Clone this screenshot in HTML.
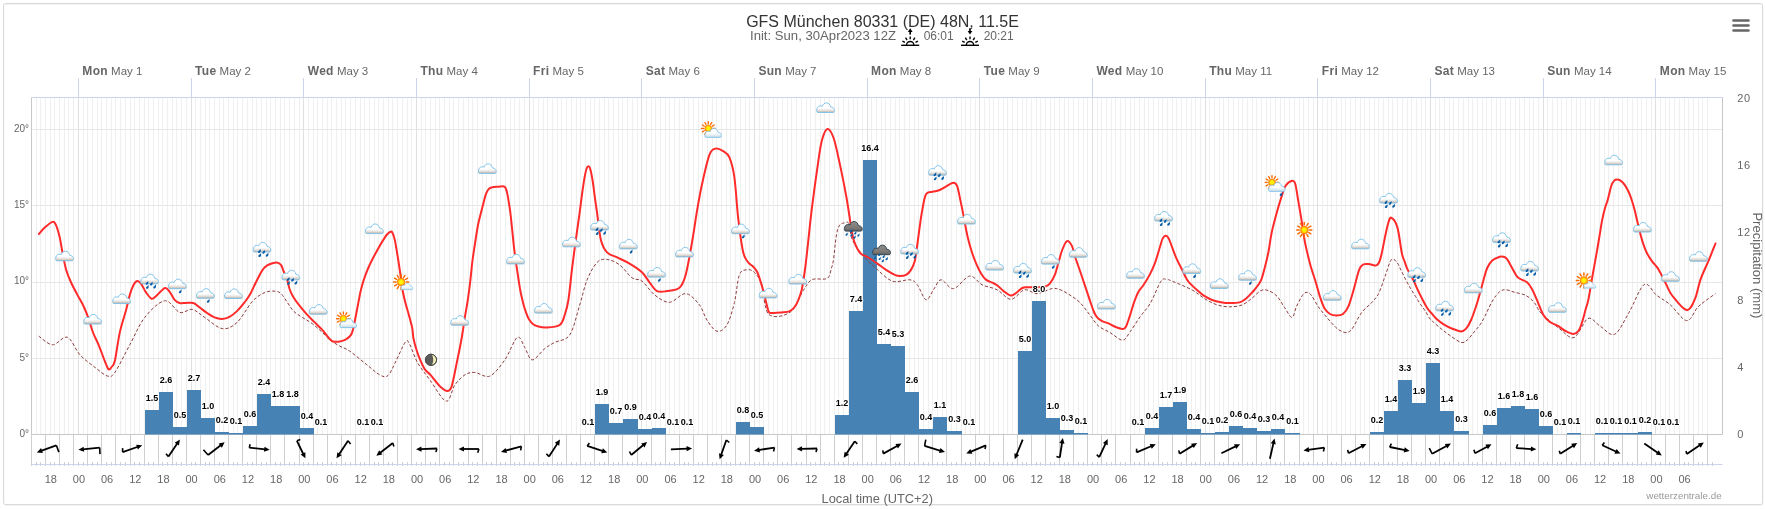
<!DOCTYPE html><html><head><meta charset="utf-8"><style>html,body{margin:0;padding:0;background:#fff;}svg{display:block;font-family:"Liberation Sans",sans-serif;will-change:transform;}</style></head><body><svg width="1765" height="509" viewBox="0 0 1765 509"><defs>
<linearGradient id="cg" x1="0" y1="0" x2="0" y2="1">
<stop offset="0" stop-color="#ffffff"/><stop offset="0.55" stop-color="#ffffff"/><stop offset="0.8" stop-color="#e4dfda"/><stop offset="1" stop-color="#b5aca5"/></linearGradient>
<linearGradient id="cgb" x1="0" y1="0" x2="0" y2="1">
<stop offset="0" stop-color="#ffffff"/><stop offset="0.55" stop-color="#fbfdff"/><stop offset="1" stop-color="#c5dbe8"/></linearGradient>
<linearGradient id="dg" x1="0" y1="0" x2="0" y2="1">
<stop offset="0" stop-color="#8f8c8a"/><stop offset="0.7" stop-color="#7b7876"/><stop offset="1" stop-color="#62605f"/></linearGradient>
<radialGradient id="sg" cx="0.5" cy="0.5" r="0.5">
<stop offset="0" stop-color="#ffff00"/><stop offset="0.45" stop-color="#ffee00"/><stop offset="1" stop-color="#ff8800"/></radialGradient>
<path id="cl" d="M1.2,9.6 C0.3,9.6 -0.1,8.5 0,7.2 C0.1,5 1.3,3.2 3.2,3.1 C4.3,3 5.3,3.1 6,3.3 C6.4,1.4 8.2,0 10.2,0 C12.4,0 14.2,1.6 14.6,4 C15.1,4.2 15.7,4.4 16.3,4.5 C17.7,4.8 18.7,6 18.7,7.6 C18.7,8.8 18.2,9.6 17.4,9.6 Z"/>
<path id="dr" d="M1.4,-1.9 C0.6,-1.1 -1.3,0 -1.3,1 C-1.3,1.8 -0.5,2.1 0.2,1.9 C1.1,1.6 1.4,0.7 1.45,-0.2 C1.5,-0.9 1.45,-1.4 1.4,-1.9 Z"/>
<g id="sunr"><g stroke="#ff6a00" stroke-width="1.5" stroke-linecap="round"><line x1="5.2" y1="0" x2="7.6" y2="0"/><line x1="4.5" y1="2.6" x2="6.58" y2="3.8"/><line x1="2.6" y1="4.5" x2="3.8" y2="6.58"/><line x1="0" y1="5.2" x2="0" y2="7.6"/><line x1="-2.6" y1="4.5" x2="-3.8" y2="6.58"/><line x1="-4.5" y1="2.6" x2="-6.58" y2="3.8"/><line x1="-5.2" y1="0" x2="-7.6" y2="0"/><line x1="-4.5" y1="-2.6" x2="-6.58" y2="-3.8"/><line x1="-2.6" y1="-4.5" x2="-3.8" y2="-6.58"/><line x1="-0" y1="-5.2" x2="-0" y2="-7.6"/><line x1="2.6" y1="-4.5" x2="3.8" y2="-6.58"/><line x1="4.5" y1="-2.6" x2="6.58" y2="-3.8"/></g><circle r="3.9" fill="url(#sg)" stroke="#ff7700" stroke-width="0.6"/></g>
</defs><rect x="0" y="0" width="1765" height="509" fill="#ffffff"/><rect x="4" y="4.5" width="1759" height="501" rx="2" ry="2" fill="none" stroke="#f4f4f4" stroke-width="1"/><rect x="3.5" y="3.5" width="1759" height="501" rx="2" ry="2" fill="none" stroke="#d9d9d9" stroke-width="1"/><path d="M36.5,97.5V434.5M40.5,97.5V434.5M45.5,97.5V434.5M50.5,97.5V434.5M54.5,97.5V434.5M59.5,97.5V434.5M64.5,97.5V434.5M68.5,97.5V434.5M73.5,97.5V434.5M83.5,97.5V434.5M87.5,97.5V434.5M92.5,97.5V434.5M97.5,97.5V434.5M101.5,97.5V434.5M106.5,97.5V434.5M111.5,97.5V434.5M115.5,97.5V434.5M120.5,97.5V434.5M125.5,97.5V434.5M130.5,97.5V434.5M134.5,97.5V434.5M139.5,97.5V434.5M144.5,97.5V434.5M148.5,97.5V434.5M153.5,97.5V434.5M158.5,97.5V434.5M162.5,97.5V434.5M167.5,97.5V434.5M172.5,97.5V434.5M176.5,97.5V434.5M181.5,97.5V434.5M186.5,97.5V434.5M195.5,97.5V434.5M200.5,97.5V434.5M205.5,97.5V434.5M209.5,97.5V434.5M214.5,97.5V434.5M219.5,97.5V434.5M223.5,97.5V434.5M228.5,97.5V434.5M233.5,97.5V434.5M237.5,97.5V434.5M242.5,97.5V434.5M247.5,97.5V434.5M252.5,97.5V434.5M256.5,97.5V434.5M261.5,97.5V434.5M266.5,97.5V434.5M270.5,97.5V434.5M275.5,97.5V434.5M280.5,97.5V434.5M284.5,97.5V434.5M289.5,97.5V434.5M294.5,97.5V434.5M299.5,97.5V434.5M308.5,97.5V434.5M313.5,97.5V434.5M317.5,97.5V434.5M322.5,97.5V434.5M327.5,97.5V434.5M331.5,97.5V434.5M336.5,97.5V434.5M341.5,97.5V434.5M345.5,97.5V434.5M350.5,97.5V434.5M355.5,97.5V434.5M360.5,97.5V434.5M364.5,97.5V434.5M369.5,97.5V434.5M374.5,97.5V434.5M378.5,97.5V434.5M383.5,97.5V434.5M388.5,97.5V434.5M392.5,97.5V434.5M397.5,97.5V434.5M402.5,97.5V434.5M407.5,97.5V434.5M411.5,97.5V434.5M421.5,97.5V434.5M425.5,97.5V434.5M430.5,97.5V434.5M435.5,97.5V434.5M439.5,97.5V434.5M444.5,97.5V434.5M449.5,97.5V434.5M453.5,97.5V434.5M458.5,97.5V434.5M463.5,97.5V434.5M468.5,97.5V434.5M472.5,97.5V434.5M477.5,97.5V434.5M482.5,97.5V434.5M486.5,97.5V434.5M491.5,97.5V434.5M496.5,97.5V434.5M500.5,97.5V434.5M505.5,97.5V434.5M510.5,97.5V434.5M514.5,97.5V434.5M519.5,97.5V434.5M524.5,97.5V434.5M533.5,97.5V434.5M538.5,97.5V434.5M543.5,97.5V434.5M547.5,97.5V434.5M552.5,97.5V434.5M557.5,97.5V434.5M561.5,97.5V434.5M566.5,97.5V434.5M571.5,97.5V434.5M576.5,97.5V434.5M580.5,97.5V434.5M585.5,97.5V434.5M590.5,97.5V434.5M594.5,97.5V434.5M599.5,97.5V434.5M604.5,97.5V434.5M608.5,97.5V434.5M613.5,97.5V434.5M618.5,97.5V434.5M622.5,97.5V434.5M627.5,97.5V434.5M632.5,97.5V434.5M637.5,97.5V434.5M646.5,97.5V434.5M651.5,97.5V434.5M655.5,97.5V434.5M660.5,97.5V434.5M665.5,97.5V434.5M669.5,97.5V434.5M674.5,97.5V434.5M679.5,97.5V434.5M684.5,97.5V434.5M688.5,97.5V434.5M693.5,97.5V434.5M698.5,97.5V434.5M702.5,97.5V434.5M707.5,97.5V434.5M712.5,97.5V434.5M716.5,97.5V434.5M721.5,97.5V434.5M726.5,97.5V434.5M730.5,97.5V434.5M735.5,97.5V434.5M740.5,97.5V434.5M745.5,97.5V434.5M749.5,97.5V434.5M759.5,97.5V434.5M763.5,97.5V434.5M768.5,97.5V434.5M773.5,97.5V434.5M777.5,97.5V434.5M782.5,97.5V434.5M787.5,97.5V434.5M791.5,97.5V434.5M796.5,97.5V434.5M801.5,97.5V434.5M806.5,97.5V434.5M810.5,97.5V434.5M815.5,97.5V434.5M820.5,97.5V434.5M824.5,97.5V434.5M829.5,97.5V434.5M834.5,97.5V434.5M838.5,97.5V434.5M843.5,97.5V434.5M848.5,97.5V434.5M853.5,97.5V434.5M857.5,97.5V434.5M862.5,97.5V434.5M871.5,97.5V434.5M876.5,97.5V434.5M881.5,97.5V434.5M885.5,97.5V434.5M890.5,97.5V434.5M895.5,97.5V434.5M899.5,97.5V434.5M904.5,97.5V434.5M909.5,97.5V434.5M914.5,97.5V434.5M918.5,97.5V434.5M923.5,97.5V434.5M928.5,97.5V434.5M932.5,97.5V434.5M937.5,97.5V434.5M942.5,97.5V434.5M946.5,97.5V434.5M951.5,97.5V434.5M956.5,97.5V434.5M961.5,97.5V434.5M965.5,97.5V434.5M970.5,97.5V434.5M975.5,97.5V434.5M984.5,97.5V434.5M989.5,97.5V434.5M993.5,97.5V434.5M998.5,97.5V434.5M1003.5,97.5V434.5M1007.5,97.5V434.5M1012.5,97.5V434.5M1017.5,97.5V434.5M1022.5,97.5V434.5M1026.5,97.5V434.5M1031.5,97.5V434.5M1036.5,97.5V434.5M1040.5,97.5V434.5M1045.5,97.5V434.5M1050.5,97.5V434.5M1054.5,97.5V434.5M1059.5,97.5V434.5M1064.5,97.5V434.5M1068.5,97.5V434.5M1073.5,97.5V434.5M1078.5,97.5V434.5M1083.5,97.5V434.5M1087.5,97.5V434.5M1097.5,97.5V434.5M1101.5,97.5V434.5M1106.5,97.5V434.5M1111.5,97.5V434.5M1115.5,97.5V434.5M1120.5,97.5V434.5M1125.5,97.5V434.5M1130.5,97.5V434.5M1134.5,97.5V434.5M1139.5,97.5V434.5M1144.5,97.5V434.5M1148.5,97.5V434.5M1153.5,97.5V434.5M1158.5,97.5V434.5M1162.5,97.5V434.5M1167.5,97.5V434.5M1172.5,97.5V434.5M1176.5,97.5V434.5M1181.5,97.5V434.5M1186.5,97.5V434.5M1191.5,97.5V434.5M1195.5,97.5V434.5M1200.5,97.5V434.5M1209.5,97.5V434.5M1214.5,97.5V434.5M1219.5,97.5V434.5M1223.5,97.5V434.5M1228.5,97.5V434.5M1233.5,97.5V434.5M1238.5,97.5V434.5M1242.5,97.5V434.5M1247.5,97.5V434.5M1252.5,97.5V434.5M1256.5,97.5V434.5M1261.5,97.5V434.5M1266.5,97.5V434.5M1270.5,97.5V434.5M1275.5,97.5V434.5M1280.5,97.5V434.5M1284.5,97.5V434.5M1289.5,97.5V434.5M1294.5,97.5V434.5M1299.5,97.5V434.5M1303.5,97.5V434.5M1308.5,97.5V434.5M1313.5,97.5V434.5M1322.5,97.5V434.5M1327.5,97.5V434.5M1331.5,97.5V434.5M1336.5,97.5V434.5M1341.5,97.5V434.5M1345.5,97.5V434.5M1350.5,97.5V434.5M1355.5,97.5V434.5M1360.5,97.5V434.5M1364.5,97.5V434.5M1369.5,97.5V434.5M1374.5,97.5V434.5M1378.5,97.5V434.5M1383.5,97.5V434.5M1388.5,97.5V434.5M1392.5,97.5V434.5M1397.5,97.5V434.5M1402.5,97.5V434.5M1407.5,97.5V434.5M1411.5,97.5V434.5M1416.5,97.5V434.5M1421.5,97.5V434.5M1425.5,97.5V434.5M1435.5,97.5V434.5M1439.5,97.5V434.5M1444.5,97.5V434.5M1449.5,97.5V434.5M1453.5,97.5V434.5M1458.5,97.5V434.5M1463.5,97.5V434.5M1468.5,97.5V434.5M1472.5,97.5V434.5M1477.5,97.5V434.5M1482.5,97.5V434.5M1486.5,97.5V434.5M1491.5,97.5V434.5M1496.5,97.5V434.5M1500.5,97.5V434.5M1505.5,97.5V434.5M1510.5,97.5V434.5M1515.5,97.5V434.5M1519.5,97.5V434.5M1524.5,97.5V434.5M1529.5,97.5V434.5M1533.5,97.5V434.5M1538.5,97.5V434.5M1547.5,97.5V434.5M1552.5,97.5V434.5M1557.5,97.5V434.5M1561.5,97.5V434.5M1566.5,97.5V434.5M1571.5,97.5V434.5M1576.5,97.5V434.5M1580.5,97.5V434.5M1585.5,97.5V434.5M1590.5,97.5V434.5M1594.5,97.5V434.5M1599.5,97.5V434.5M1604.5,97.5V434.5M1608.5,97.5V434.5M1613.5,97.5V434.5M1618.5,97.5V434.5M1622.5,97.5V434.5M1627.5,97.5V434.5M1632.5,97.5V434.5M1637.5,97.5V434.5M1641.5,97.5V434.5M1646.5,97.5V434.5M1651.5,97.5V434.5M1660.5,97.5V434.5M1665.5,97.5V434.5M1669.5,97.5V434.5M1674.5,97.5V434.5M1679.5,97.5V434.5M1684.5,97.5V434.5M1688.5,97.5V434.5M1693.5,97.5V434.5M1698.5,97.5V434.5M1702.5,97.5V434.5M1707.5,97.5V434.5" stroke="#efefef" stroke-width="1" fill="none"/><path d="M31.5,358.5H1722.5M31.5,282.5H1722.5M31.5,205.5H1722.5M31.5,129.5H1722.5" stroke="#e6e6e6" stroke-width="1" fill="none"/><path d="M78.5,97.5V434.5M191.5,97.5V434.5M303.5,97.5V434.5M416.5,97.5V434.5M529.5,97.5V434.5M641.5,97.5V434.5M754.5,97.5V434.5M867.5,97.5V434.5M979.5,97.5V434.5M1092.5,97.5V434.5M1205.5,97.5V434.5M1317.5,97.5V434.5M1430.5,97.5V434.5M1543.5,97.5V434.5M1655.5,97.5V434.5" stroke="#e0e0e0" stroke-width="1" fill="none"/><path d="M78.5,78V97.5M191.5,78V97.5M303.5,78V97.5M416.5,78V97.5M529.5,78V97.5M641.5,78V97.5M754.5,78V97.5M867.5,78V97.5M979.5,78V97.5M1092.5,78V97.5M1205.5,78V97.5M1317.5,78V97.5M1430.5,78V97.5M1543.5,78V97.5M1655.5,78V97.5" stroke="#ccd6eb" stroke-width="1" fill="none"/><path d="M31.5,97.5H1723" stroke="#ccd6eb" stroke-width="1"/><path d="M1722.5,97.5V434.5" stroke="#c8c8c8" stroke-width="1"/><path d="M31.5,97.5V434.5" stroke="#c8c8c8" stroke-width="1"/><path d="M31.5,434.5V466M45.5,434.5V466M59.5,434.5V466M73.5,434.5V466M87.5,434.5V466M101.5,434.5V466M115.5,434.5V466M130.5,434.5V466M144.5,434.5V466M158.5,434.5V466M172.5,434.5V466M186.5,434.5V466M200.5,434.5V466M214.5,434.5V466M228.5,434.5V466M242.5,434.5V466M256.5,434.5V466M270.5,434.5V466M284.5,434.5V466M299.5,434.5V466M313.5,434.5V466M327.5,434.5V466M341.5,434.5V466M355.5,434.5V466M369.5,434.5V466M383.5,434.5V466M397.5,434.5V466M411.5,434.5V466M425.5,434.5V466M439.5,434.5V466M453.5,434.5V466M468.5,434.5V466M482.5,434.5V466M496.5,434.5V466M510.5,434.5V466M524.5,434.5V466M538.5,434.5V466M552.5,434.5V466M566.5,434.5V466M580.5,434.5V466M594.5,434.5V466M608.5,434.5V466M622.5,434.5V466M637.5,434.5V466M651.5,434.5V466M665.5,434.5V466M679.5,434.5V466M693.5,434.5V466M707.5,434.5V466M721.5,434.5V466M735.5,434.5V466M749.5,434.5V466M763.5,434.5V466M777.5,434.5V466M791.5,434.5V466M806.5,434.5V466M820.5,434.5V466M834.5,434.5V466M848.5,434.5V466M862.5,434.5V466M876.5,434.5V466M890.5,434.5V466M904.5,434.5V466M918.5,434.5V466M932.5,434.5V466M946.5,434.5V466M961.5,434.5V466M975.5,434.5V466M989.5,434.5V466M1003.5,434.5V466M1017.5,434.5V466M1031.5,434.5V466M1045.5,434.5V466M1059.5,434.5V466M1073.5,434.5V466M1087.5,434.5V466M1101.5,434.5V466M1115.5,434.5V466M1130.5,434.5V466M1144.5,434.5V466M1158.5,434.5V466M1172.5,434.5V466M1186.5,434.5V466M1200.5,434.5V466M1214.5,434.5V466M1228.5,434.5V466M1242.5,434.5V466M1256.5,434.5V466M1270.5,434.5V466M1284.5,434.5V466M1299.5,434.5V466M1313.5,434.5V466M1327.5,434.5V466M1341.5,434.5V466M1355.5,434.5V466M1369.5,434.5V466M1383.5,434.5V466M1397.5,434.5V466M1411.5,434.5V466M1425.5,434.5V466M1439.5,434.5V466M1453.5,434.5V466M1468.5,434.5V466M1482.5,434.5V466M1496.5,434.5V466M1510.5,434.5V466M1524.5,434.5V466M1538.5,434.5V466M1552.5,434.5V466M1566.5,434.5V466M1580.5,434.5V466M1594.5,434.5V466M1608.5,434.5V466M1622.5,434.5V466M1637.5,434.5V466M1651.5,434.5V466M1665.5,434.5V466M1679.5,434.5V466M1693.5,434.5V466M1707.5,434.5V466" stroke="#cfcfcf" stroke-width="1" fill="none"/><path d="M31.5,434.5H1722.5" stroke="#c8c8c8" stroke-width="1"/><path d="M31.5,462V466M36.5,462V466M40.5,462V466M45.5,462V466M50.5,462V466M54.5,462V466M59.5,462V466M64.5,462V466M68.5,462V466M73.5,462V466M78.5,462V466M83.5,462V466M87.5,462V466M92.5,462V466M97.5,462V466M101.5,462V466M106.5,462V466M111.5,462V466M115.5,462V466M120.5,462V466M125.5,462V466M130.5,462V466M134.5,462V466M139.5,462V466M144.5,462V466M148.5,462V466M153.5,462V466M158.5,462V466M162.5,462V466M167.5,462V466M172.5,462V466M176.5,462V466M181.5,462V466M186.5,462V466M191.5,462V466M195.5,462V466M200.5,462V466M205.5,462V466M209.5,462V466M214.5,462V466M219.5,462V466M223.5,462V466M228.5,462V466M233.5,462V466M237.5,462V466M242.5,462V466M247.5,462V466M252.5,462V466M256.5,462V466M261.5,462V466M266.5,462V466M270.5,462V466M275.5,462V466M280.5,462V466M284.5,462V466M289.5,462V466M294.5,462V466M299.5,462V466M303.5,462V466M308.5,462V466M313.5,462V466M317.5,462V466M322.5,462V466M327.5,462V466M331.5,462V466M336.5,462V466M341.5,462V466M345.5,462V466M350.5,462V466M355.5,462V466M360.5,462V466M364.5,462V466M369.5,462V466M374.5,462V466M378.5,462V466M383.5,462V466M388.5,462V466M392.5,462V466M397.5,462V466M402.5,462V466M407.5,462V466M411.5,462V466M416.5,462V466M421.5,462V466M425.5,462V466M430.5,462V466M435.5,462V466M439.5,462V466M444.5,462V466M449.5,462V466M453.5,462V466M458.5,462V466M463.5,462V466M468.5,462V466M472.5,462V466M477.5,462V466M482.5,462V466M486.5,462V466M491.5,462V466M496.5,462V466M500.5,462V466M505.5,462V466M510.5,462V466M514.5,462V466M519.5,462V466M524.5,462V466M529.5,462V466M533.5,462V466M538.5,462V466M543.5,462V466M547.5,462V466M552.5,462V466M557.5,462V466M561.5,462V466M566.5,462V466M571.5,462V466M576.5,462V466M580.5,462V466M585.5,462V466M590.5,462V466M594.5,462V466M599.5,462V466M604.5,462V466M608.5,462V466M613.5,462V466M618.5,462V466M622.5,462V466M627.5,462V466M632.5,462V466M637.5,462V466M641.5,462V466M646.5,462V466M651.5,462V466M655.5,462V466M660.5,462V466M665.5,462V466M669.5,462V466M674.5,462V466M679.5,462V466M684.5,462V466M688.5,462V466M693.5,462V466M698.5,462V466M702.5,462V466M707.5,462V466M712.5,462V466M716.5,462V466M721.5,462V466M726.5,462V466M730.5,462V466M735.5,462V466M740.5,462V466M745.5,462V466M749.5,462V466M754.5,462V466M759.5,462V466M763.5,462V466M768.5,462V466M773.5,462V466M777.5,462V466M782.5,462V466M787.5,462V466M791.5,462V466M796.5,462V466M801.5,462V466M806.5,462V466M810.5,462V466M815.5,462V466M820.5,462V466M824.5,462V466M829.5,462V466M834.5,462V466M838.5,462V466M843.5,462V466M848.5,462V466M853.5,462V466M857.5,462V466M862.5,462V466M867.5,462V466M871.5,462V466M876.5,462V466M881.5,462V466M885.5,462V466M890.5,462V466M895.5,462V466M899.5,462V466M904.5,462V466M909.5,462V466M914.5,462V466M918.5,462V466M923.5,462V466M928.5,462V466M932.5,462V466M937.5,462V466M942.5,462V466M946.5,462V466M951.5,462V466M956.5,462V466M961.5,462V466M965.5,462V466M970.5,462V466M975.5,462V466M979.5,462V466M984.5,462V466M989.5,462V466M993.5,462V466M998.5,462V466M1003.5,462V466M1007.5,462V466M1012.5,462V466M1017.5,462V466M1022.5,462V466M1026.5,462V466M1031.5,462V466M1036.5,462V466M1040.5,462V466M1045.5,462V466M1050.5,462V466M1054.5,462V466M1059.5,462V466M1064.5,462V466M1068.5,462V466M1073.5,462V466M1078.5,462V466M1083.5,462V466M1087.5,462V466M1092.5,462V466M1097.5,462V466M1101.5,462V466M1106.5,462V466M1111.5,462V466M1115.5,462V466M1120.5,462V466M1125.5,462V466M1130.5,462V466M1134.5,462V466M1139.5,462V466M1144.5,462V466M1148.5,462V466M1153.5,462V466M1158.5,462V466M1162.5,462V466M1167.5,462V466M1172.5,462V466M1176.5,462V466M1181.5,462V466M1186.5,462V466M1191.5,462V466M1195.5,462V466M1200.5,462V466M1205.5,462V466M1209.5,462V466M1214.5,462V466M1219.5,462V466M1223.5,462V466M1228.5,462V466M1233.5,462V466M1238.5,462V466M1242.5,462V466M1247.5,462V466M1252.5,462V466M1256.5,462V466M1261.5,462V466M1266.5,462V466M1270.5,462V466M1275.5,462V466M1280.5,462V466M1284.5,462V466M1289.5,462V466M1294.5,462V466M1299.5,462V466M1303.5,462V466M1308.5,462V466M1313.5,462V466M1317.5,462V466M1322.5,462V466M1327.5,462V466M1331.5,462V466M1336.5,462V466M1341.5,462V466M1345.5,462V466M1350.5,462V466M1355.5,462V466M1360.5,462V466M1364.5,462V466M1369.5,462V466M1374.5,462V466M1378.5,462V466M1383.5,462V466M1388.5,462V466M1392.5,462V466M1397.5,462V466M1402.5,462V466M1407.5,462V466M1411.5,462V466M1416.5,462V466M1421.5,462V466M1425.5,462V466M1430.5,462V466M1435.5,462V466M1439.5,462V466M1444.5,462V466M1449.5,462V466M1453.5,462V466M1458.5,462V466M1463.5,462V466M1468.5,462V466M1472.5,462V466M1477.5,462V466M1482.5,462V466M1486.5,462V466M1491.5,462V466M1496.5,462V466M1500.5,462V466M1505.5,462V466M1510.5,462V466M1515.5,462V466M1519.5,462V466M1524.5,462V466M1529.5,462V466M1533.5,462V466M1538.5,462V466M1543.5,462V466M1547.5,462V466M1552.5,462V466M1557.5,462V466M1561.5,462V466M1566.5,462V466M1571.5,462V466M1576.5,462V466M1580.5,462V466M1585.5,462V466M1590.5,462V466M1594.5,462V466M1599.5,462V466M1604.5,462V466M1608.5,462V466M1613.5,462V466M1618.5,462V466M1622.5,462V466M1627.5,462V466M1632.5,462V466M1637.5,462V466M1641.5,462V466M1646.5,462V466M1651.5,462V466M1655.5,462V466M1660.5,462V466M1665.5,462V466M1669.5,462V466M1674.5,462V466M1679.5,462V466M1684.5,462V466M1688.5,462V466M1693.5,462V466M1698.5,462V466M1702.5,462V466M1707.5,462V466M1712.5,462V466" stroke="#cfcfcf" stroke-width="1" fill="none"/><path d="M31.5,464.5H1722.5" stroke="#ccd6eb" stroke-width="1"/><path d="M145,410H159V434.5H145ZM159,392H173V434.5H159ZM173,427H187V434.5H173ZM187,390H201V434.5H187ZM201,418H215V434.5H201ZM215,432H229V434.5H215ZM229,433H243V434.5H229ZM243,426H257V434.5H243ZM257,394H271V434.5H257ZM271,406H285V434.5H271ZM285,406H300V434.5H285ZM300,428H314V434.5H300ZM595,404H609V434.5H595ZM609,423H623V434.5H609ZM623,419H638V434.5H623ZM638,429H652V434.5H638ZM652,428H666V434.5H652ZM736,422H750V434.5H736ZM750,427H764V434.5H750ZM835,415H849V434.5H835ZM849,311H863V434.5H849ZM863,160H877V434.5H863ZM877,344H891V434.5H877ZM891,346H905V434.5H891ZM905,392H919V434.5H905ZM919,429H933V434.5H919ZM933,417H947V434.5H933ZM947,431H962V434.5H947ZM1018,351H1032V434.5H1018ZM1032,301H1046V434.5H1032ZM1046,418H1060V434.5H1046ZM1060,430H1074V434.5H1060ZM1074,433H1088V434.5H1074ZM1145,428H1159V434.5H1145ZM1159,407H1173V434.5H1159ZM1173,402H1187V434.5H1173ZM1187,429H1201V434.5H1187ZM1201,433H1215V434.5H1201ZM1215,432H1229V434.5H1215ZM1229,426H1243V434.5H1229ZM1243,428H1257V434.5H1243ZM1257,431H1271V434.5H1257ZM1271,429H1285V434.5H1271ZM1285,433H1300V434.5H1285ZM1370,432H1384V434.5H1370ZM1384,411H1398V434.5H1384ZM1398,380H1412V434.5H1398ZM1412,403H1426V434.5H1412ZM1426,363H1440V434.5H1426ZM1440,411H1454V434.5H1440ZM1454,431H1469V434.5H1454ZM1483,425H1497V434.5H1483ZM1497,408H1511V434.5H1497ZM1511,406H1525V434.5H1511ZM1525,409H1539V434.5H1525ZM1539,426H1553V434.5H1539ZM1567,433H1581V434.5H1567ZM1595,433H1609V434.5H1595ZM1609,433H1623V434.5H1609ZM1623,433H1638V434.5H1623ZM1638,432H1652V434.5H1638Z" fill="#4682b4"/><path d="M38.7,336.1C41,337.55 47.72,344.6 52.5,344.8C57.28,345 62.83,335.63 67.4,337.3C71.97,338.97 75.32,349.8 79.9,354.8C84.48,359.8 90.32,363.77 94.9,367.3C99.48,370.83 104.07,375.17 107.4,376C110.73,376.83 111.17,377.5 114.9,372.3C118.63,367.1 124.82,353.95 129.8,344.8C134.78,335.65 138.98,324.73 144.8,317.4C150.62,310.07 158.88,301.63 164.7,300.8C170.52,299.97 175.12,310.97 179.7,312.4C184.28,313.83 188.03,308.57 192.2,309.4C196.37,310.23 199.7,314.2 204.7,317.4C209.7,320.6 216.8,327.77 222.2,328.6C227.6,329.43 232.05,326.97 237.1,322.4C242.15,317.83 247.87,306.18 252.5,301.2C257.13,296.22 261.17,294.17 264.9,292.5C268.63,290.83 272.2,291 274.9,291.2C277.6,291.4 279.02,291.82 281.1,293.7C283.18,295.58 285.32,299.58 287.4,302.5C289.48,305.42 291.12,308.72 293.6,311.2C296.08,313.68 299.18,315.32 302.3,317.4C305.42,319.48 308.97,321.2 312.3,323.7C315.63,326.2 319.38,329.7 322.3,332.4C325.22,335.1 326.88,337.62 329.8,339.9C332.72,342.18 336.48,344.23 339.8,346.1C343.12,347.97 345.18,347.98 349.7,351.1C354.22,354.22 361.85,360.82 366.9,364.8C371.95,368.78 376.48,373.22 380,375C383.52,376.78 385.42,377.67 388,375.5C390.58,373.33 392.57,367.62 395.5,362C398.43,356.38 403.18,344.63 405.6,341.8C408.02,338.97 408.03,341.57 410,345C411.97,348.43 414.08,356.58 417.4,362.4C420.72,368.22 425.12,373.45 429.9,379.9C434.68,386.35 441.93,400.27 446.1,401.1C450.27,401.93 451.77,389.27 454.9,384.9C458.03,380.53 461.58,376.98 464.9,374.9C468.22,372.82 470.65,372.2 474.8,372.4C478.95,372.6 484.8,378.18 489.8,376.1C494.8,374.02 500.22,366.35 504.8,359.9C509.38,353.45 513.98,339.48 517.3,337.4C520.62,335.32 522.22,343.65 524.7,347.4C527.18,351.15 528.87,359.68 532.2,359.9C535.53,360.12 540.95,351.62 544.7,348.7C548.45,345.78 550.53,344.7 554.7,342.4C558.87,340.1 565.53,341.13 569.7,334.9C573.87,328.67 576.8,314.18 579.7,305C582.6,295.82 584.2,286.9 587.1,279.8C590,272.7 593.77,265.8 597.1,262.4C600.43,259 603.35,258.98 607.1,259.4C610.85,259.82 615.43,261.83 619.6,264.9C623.77,267.97 628.37,275.1 632.1,277.8C635.83,280.5 638.27,278.27 642,281.1C645.73,283.93 649.92,291.27 654.5,294.8C659.08,298.33 664.3,302.5 669.5,302.3C674.7,302.1 680.72,293.18 685.7,293.6C690.68,294.02 695.87,300.4 699.4,304.8C702.93,309.2 703.98,315.6 706.9,320C709.82,324.4 713.57,330.37 716.9,331.2C720.23,332.03 723.98,329.78 726.9,325C729.82,320.22 732.32,310.87 734.4,302.5C736.48,294.13 737.32,280.25 739.4,274.8C741.48,269.35 744.42,270.22 746.9,269.8C749.38,269.38 751.82,269.8 754.3,272.3C756.78,274.8 759.4,277.8 761.8,284.8C764.2,291.8 763.95,309.75 768.7,314.3C773.45,318.85 784.53,316.07 790.3,312.1C796.07,308.13 799.7,295.9 803.3,290.5C806.9,285.1 807.93,281.72 811.9,279.7C815.87,277.68 823.83,280.35 827.1,278.4C830.37,276.45 830.42,271.23 831.5,268C832.58,264.77 832.93,263.33 833.6,259C834.27,254.67 834.85,246.83 835.5,242C836.15,237.17 836.68,232.97 837.5,230C838.32,227.03 839.4,225.33 840.4,224.2C841.4,223.07 842.12,223.33 843.5,223.2C844.88,223.07 847.22,220.62 848.7,223.4C850.18,226.18 850.12,234.65 852.4,239.9C854.68,245.15 858.65,250.33 862.4,254.9C866.15,259.47 869.92,262.93 874.9,267.3C879.88,271.67 886.48,279.02 892.3,281.1C898.12,283.18 905.63,279.18 909.8,279.8C913.97,280.42 914.6,281.47 917.3,284.8C920,288.13 923.3,298.97 926,299.8C928.7,300.63 931,293.13 933.5,289.8C936,286.47 937.67,280 941,279.8C944.33,279.6 948.72,289.22 953.5,288.6C958.28,287.98 964.92,276.73 969.7,276.1C974.48,275.47 977.62,282.52 982.2,284.8C986.78,287.08 992.42,287.38 997.2,289.8C1001.98,292.22 1006.33,299.3 1010.9,299.3C1015.47,299.3 1020.23,290.75 1024.6,289.8C1028.97,288.85 1032.52,293.8 1037.1,293.6C1041.68,293.4 1048.15,289.2 1052.1,288.6C1056.05,288 1057.82,288.92 1060.8,290C1063.78,291.08 1066.8,293 1070,295.1C1073.2,297.2 1076.67,299.27 1080,302.6C1083.33,305.93 1086.93,311.22 1090,315.1C1093.07,318.98 1095.05,322.98 1098.4,325.9C1101.75,328.82 1106.07,330.23 1110.1,332.6C1114.13,334.97 1119.27,340.23 1122.6,340.1C1125.93,339.97 1127.18,335.68 1130.1,331.8C1133.02,327.92 1136.75,321.53 1140.1,316.8C1143.45,312.07 1146.72,309.33 1150.2,303.4C1153.68,297.47 1158.23,285.18 1161,281.2C1163.77,277.22 1164.92,279.5 1166.8,279.5C1168.68,279.5 1168.07,279.45 1172.3,281.2C1176.53,282.95 1186.8,287.08 1192.2,290C1197.6,292.92 1200.53,296.22 1204.7,298.7C1208.87,301.18 1213.05,303.55 1217.2,304.9C1221.35,306.25 1225.45,306.8 1229.6,306.8C1233.75,306.8 1238.35,306.35 1242.1,304.9C1245.85,303.45 1248.98,300.48 1252.1,298.1C1255.22,295.72 1258.1,291.85 1260.8,290.6C1263.5,289.35 1265.6,289.67 1268.3,290.6C1271,291.53 1274.3,293.4 1277,296.2C1279.7,299 1282,303.87 1284.5,307.4C1287,310.93 1290,317.57 1292,317.4C1294,317.23 1294.67,310.2 1296.5,306.4C1298.33,302.6 1301.2,296.93 1303,294.6C1304.8,292.27 1305.87,292.23 1307.3,292.4C1308.73,292.57 1309.8,293.27 1311.6,295.6C1313.4,297.93 1315.58,302.78 1318.1,306.4C1320.62,310.02 1323.82,313.87 1326.7,317.3C1329.58,320.73 1333.02,324.72 1335.4,327C1337.78,329.28 1339.02,330.08 1341,331C1342.98,331.92 1345.35,333 1347.3,332.5C1349.25,332 1350.37,331.25 1352.7,328C1355.03,324.75 1358.07,317.32 1361.3,313C1364.53,308.68 1369.22,305.35 1372.1,302.1C1374.98,298.85 1376.43,297.82 1378.6,293.5C1380.77,289.18 1382.97,281.85 1385.1,276.2C1387.23,270.55 1389.35,261.8 1391.4,259.6C1393.45,257.4 1395.82,261.27 1397.4,263C1398.98,264.73 1399.5,267.2 1400.9,270C1402.3,272.8 1404.17,276.68 1405.8,279.8C1407.43,282.92 1409.07,285.92 1410.7,288.7C1412.33,291.48 1413.97,293.88 1415.6,296.5C1417.23,299.12 1418.85,301.93 1420.5,304.4C1422.15,306.87 1424.02,309.02 1425.5,311.3C1426.98,313.58 1428.25,316.45 1429.4,318.1C1430.55,319.75 1430.45,319.43 1432.4,321.2C1434.35,322.97 1438.18,326.32 1441.1,328.7C1444.02,331.08 1446.57,333.22 1449.9,335.5C1453.23,337.78 1458.2,341.67 1461.1,342.4C1464,343.13 1465.02,341.77 1467.3,339.9C1469.58,338.03 1472.3,334.32 1474.8,331.2C1477.3,328.08 1479.38,326.2 1482.3,321.2C1485.22,316.2 1489.4,306.12 1492.3,301.2C1495.2,296.28 1497.43,293.6 1499.7,291.7C1501.97,289.8 1503.42,289.7 1505.9,289.8C1508.38,289.9 1511.28,291.37 1514.6,292.3C1517.92,293.23 1522.47,293.63 1525.8,295.4C1529.13,297.17 1532.1,300 1534.6,302.9C1537.1,305.8 1536.67,308.52 1540.8,312.8C1544.93,317.08 1553.87,324.48 1559.4,328.6C1564.93,332.72 1569.23,339.18 1574,337.5C1578.77,335.82 1583.67,320.42 1588,318.5C1592.33,316.58 1595.57,323.37 1600,326C1604.43,328.63 1609.77,336.55 1614.6,334.3C1619.43,332.05 1624.07,320.78 1629,312.5C1633.93,304.22 1639.65,287.52 1644.2,284.6C1648.75,281.68 1651.98,291.67 1656.3,295C1660.62,298.33 1665.05,300.33 1670.1,304.6C1675.15,308.87 1682.02,320.13 1686.6,320.6C1691.18,321.07 1694.38,310.75 1697.6,307.4C1700.82,304.05 1702.92,302.8 1705.9,300.5C1708.88,298.2 1713.9,294.75 1715.5,293.6" fill="none" stroke="#8e3c3c" stroke-width="1" stroke-dasharray="3.2,2"/><path d="M38.9,234.1C39.92,232.97 42.7,229.33 45,227.3C47.3,225.27 50.93,222.4 52.7,221.9C54.47,221.4 54.7,222.75 55.6,224.3C56.5,225.85 57.35,228.73 58.1,231.2C58.85,233.67 59.38,235.63 60.1,239.1C60.82,242.57 61.38,246.85 62.4,252C63.42,257.15 64.75,264.92 66.2,270C67.65,275.08 69.23,278.35 71.1,282.5C72.97,286.65 75.32,290.95 77.4,294.9C79.48,298.85 81.73,302.25 83.6,306.2C85.47,310.15 87.03,314.22 88.6,318.6C90.17,322.98 91.33,328.12 93,332.5C94.67,336.88 96.63,340.13 98.6,344.9C100.57,349.67 103.13,357.03 104.8,361.1C106.47,365.17 107.48,368.32 108.6,369.3C109.72,370.28 110.47,368.37 111.5,367C112.53,365.63 113.42,366.87 114.8,361.1C116.18,355.33 117.92,340.93 119.8,332.4C121.68,323.87 124.43,316.15 126.1,309.9C127.77,303.65 128.57,299.05 129.8,294.9C131.03,290.75 132.27,287.32 133.5,285C134.73,282.68 135.95,281.22 137.2,281C138.45,280.78 139.53,281.8 141,283.7C142.47,285.6 144.23,289.9 146,292.4C147.77,294.9 149.95,298.07 151.6,298.7C153.25,299.33 154.35,297.45 155.9,296.2C157.45,294.95 159.33,292.55 160.9,291.2C162.47,289.85 163.83,288 165.3,288.1C166.77,288.2 168.15,289.83 169.7,291.8C171.25,293.77 172.95,298.03 174.6,299.9C176.25,301.77 177.72,302.48 179.6,303C181.48,303.52 183.62,303 185.9,303C188.18,303 191.02,302.27 193.3,303C195.58,303.73 197.3,305.73 199.6,307.4C201.9,309.07 204.62,311.33 207.1,313C209.58,314.67 212.02,316.42 214.5,317.4C216.98,318.38 219.5,319 222,318.9C224.5,318.8 227,318.1 229.5,316.8C232,315.5 234.5,313.5 237,311.1C239.5,308.7 242.32,305.2 244.5,302.4C246.68,299.6 248,298.05 250.1,294.3C252.2,290.55 254.68,284.37 257.1,279.9C259.52,275.43 261.45,270.38 264.6,267.5C267.75,264.62 273.27,263.02 276,262.6C278.73,262.18 279.75,263.6 281,265C282.25,266.4 282.47,268.5 283.5,271C284.53,273.5 286.13,276.83 287.2,280C288.27,283.17 288.83,287.08 289.9,290C290.97,292.92 291.93,294.8 293.6,297.5C295.27,300.2 297.62,303.3 299.9,306.2C302.18,309.1 304.82,312.2 307.3,314.9C309.78,317.6 312.3,319.9 314.8,322.4C317.3,324.9 320.22,327.62 322.3,329.9C324.38,332.18 325.63,334.23 327.3,336.1C328.97,337.97 330.43,340.17 332.3,341.1C334.17,342.03 336.22,342 338.5,341.7C340.78,341.4 343.92,340.43 346,339.3C348.08,338.17 349.75,336.88 351,334.9C352.25,332.92 352.47,331.77 353.5,327.4C354.53,323.03 355.97,314.93 357.2,308.7C358.43,302.47 359.57,295.5 360.9,290C362.23,284.5 363.75,279.87 365.2,275.7C366.65,271.53 367.57,269.3 369.6,265C371.63,260.7 374.85,254.5 377.4,249.9C379.95,245.3 383.13,240.13 384.9,237.4C386.67,234.67 387.07,234.43 388,233.5C388.93,232.57 389.78,231.97 390.5,231.8C391.22,231.63 391.58,231.15 392.3,232.5C393.02,233.85 393.85,235.57 394.8,239.9C395.75,244.23 397.05,252.65 398,258.5C398.95,264.35 399.72,269.63 400.5,275C401.28,280.37 401.85,285.93 402.7,290.7C403.55,295.47 404.87,300.6 405.6,303.6C406.33,306.6 406.02,304.73 407.1,308.7C408.18,312.67 411.05,322.52 412.1,327.4C413.15,332.28 412.65,334.2 413.4,338C414.15,341.8 415.43,346.47 416.6,350.2C417.77,353.93 419.02,357.2 420.4,360.4C421.78,363.6 423.18,366.95 424.9,369.4C426.62,371.85 428.88,373.08 430.7,375.1C432.52,377.12 434.1,379.47 435.8,381.5C437.5,383.53 438.98,385.7 440.9,387.3C442.82,388.9 445.6,391 447.3,391.1C449,391.2 450.05,390.03 451.1,387.9C452.15,385.77 452.75,382.03 453.6,378.3C454.45,374.57 455.23,370.22 456.2,365.5C457.17,360.78 458.4,355.08 459.4,350C460.4,344.92 461.28,340.48 462.2,335C463.12,329.52 463.98,322.83 464.9,317.1C465.82,311.37 466.78,306.78 467.7,300.6C468.62,294.42 469.63,286.43 470.4,280C471.17,273.57 471.6,267.63 472.3,262C473,256.37 473.65,252.37 474.6,246.2C475.55,240.03 476.92,230.65 478,225C479.08,219.35 480.17,216.07 481.1,212.3C482.03,208.53 482.77,205.52 483.6,202.4C484.43,199.28 485.15,195.93 486.1,193.6C487.05,191.27 488.05,189.5 489.3,188.4C490.55,187.3 492.05,187.28 493.6,187C495.15,186.72 496.93,186.8 498.6,186.7C500.27,186.6 502.45,186.23 503.6,186.4C504.75,186.57 504.88,186.5 505.5,187.7C506.12,188.9 506.68,190.73 507.3,193.6C507.92,196.47 508.68,201.67 509.2,204.9C509.72,208.13 509.93,209.15 510.4,213C510.87,216.85 511.3,221.43 512,228C512.7,234.57 513.55,244.07 514.6,252.4C515.65,260.73 517.3,271.4 518.3,278C519.3,284.6 519.7,287.47 520.6,292C521.5,296.53 522.73,301.63 523.7,305.2C524.67,308.77 525.5,311.02 526.4,313.4C527.3,315.78 527.97,317.68 529.1,319.5C530.23,321.32 531.8,323.17 533.2,324.3C534.6,325.43 535.37,325.77 537.5,326.3C539.63,326.83 542.3,327.72 546,327.5C549.7,327.28 556.58,327.08 559.7,325C562.82,322.92 563.25,319.17 564.7,315C566.15,310.83 567.15,307.95 568.4,300C569.65,292.05 570.85,278.13 572.2,267.3C573.55,256.47 575.25,244.17 576.5,235C577.75,225.83 578.77,219.2 579.7,212.3C580.63,205.4 581.28,199.42 582.1,193.6C582.92,187.78 583.87,181.55 584.6,177.4C585.33,173.25 585.87,170.57 586.5,168.7C587.13,166.83 587.78,166.2 588.4,166.2C589.02,166.2 589.48,166.2 590.2,168.7C590.92,171.2 591.87,176 592.7,181.2C593.53,186.4 594.47,194.6 595.2,199.9C595.93,205.2 596.15,206.33 597.1,213C598.05,219.67 599.23,233.33 600.9,239.9C602.57,246.47 604.4,249.48 607.1,252.4C609.8,255.32 613.35,255.53 617.1,257.4C620.85,259.27 625.45,261.12 629.6,263.6C633.75,266.08 638.68,269.18 642,272.3C645.32,275.42 647,279.17 649.5,282.3C652,285.43 654.08,289.63 657,291.1C659.92,292.57 663.25,291.65 667,291.1C670.75,290.55 676.38,290.52 679.5,287.8C682.62,285.08 683.62,282.37 685.7,274.8C687.78,267.23 690.12,253.03 692,242.4C693.88,231.77 695.35,220.6 697,211C698.65,201.4 699.83,194.15 701.9,184.8C703.97,175.45 707.1,160.93 709.4,154.9C711.7,148.87 713.42,149.23 715.7,148.6C717.98,147.97 720.82,149.63 723.1,151.1C725.38,152.57 727.52,153.03 729.4,157.4C731.28,161.77 732.95,167.3 734.4,177.3C735.85,187.3 736.72,205.28 738.1,217.4C739.48,229.52 741.35,242.97 742.7,250C744.05,257.03 745.05,257.32 746.2,259.6C747.35,261.88 748.35,262.43 749.6,263.7C750.85,264.97 752.43,265.82 753.7,267.2C754.97,268.58 756.05,269.6 757.2,272C758.35,274.4 759.57,278.4 760.6,281.6C761.63,284.8 762.48,287.77 763.4,291.2C764.32,294.63 765.2,298.77 766.1,302.2C767,305.63 767.88,310.02 768.8,311.8C769.72,313.58 769.53,312.78 771.6,312.9C773.67,313.02 778.13,312.8 781.2,312.5C784.27,312.2 787.53,312.35 790,311.1C792.47,309.85 794.17,308.1 796,305C797.83,301.9 799.87,296 801,292.5C802.13,289 802.1,288.08 802.8,284C803.5,279.92 804.4,274.13 805.2,268C806,261.87 806.48,257.17 807.6,247.2C808.72,237.23 810.1,222.63 811.9,208.2C813.7,193.77 816.72,171.97 818.4,160.6C820.08,149.23 820.52,145.27 822,140C823.48,134.73 825.37,129.33 827.3,129C829.23,128.67 831.48,132.02 833.6,138C835.72,143.98 837.87,155.07 840,164.9C842.13,174.73 844.53,186.57 846.4,197C848.27,207.43 849.98,220.33 851.2,227.5C852.42,234.67 852.67,236.47 853.7,240C854.73,243.53 856.15,246.37 857.4,248.7C858.65,251.03 859.53,252.62 861.2,254C862.87,255.38 864.7,255.4 867.4,257C870.1,258.6 874.28,261.45 877.4,263.6C880.52,265.75 883.2,268.02 886.1,269.9C889,271.78 892.52,273.87 894.8,274.9C897.08,275.93 897.92,276.1 899.8,276.1C901.68,276.1 904.23,275.93 906.1,274.9C907.97,273.87 909.55,272.2 911,269.9C912.45,267.6 913.73,265.42 914.8,261.1C915.87,256.78 916.57,249.85 917.4,244C918.23,238.15 918.98,231.67 919.8,226C920.62,220.33 921.27,215.28 922.3,210C923.33,204.72 924.33,197.33 926,194.3C927.67,191.27 930.22,192.43 932.3,191.8C934.38,191.17 936.63,191.13 938.5,190.5C940.37,189.87 941.63,189.03 943.5,188C945.37,186.97 947.93,185.18 949.7,184.3C951.47,183.42 952.85,182.38 954.1,182.7C955.35,183.02 956.17,183.33 957.2,186.2C958.23,189.07 959.27,195.12 960.3,199.9C961.33,204.68 962.25,209.05 963.4,214.9C964.55,220.75 965.9,229.15 967.2,235C968.5,240.85 969.7,245.22 971.2,250C972.7,254.78 974.53,259.75 976.2,263.7C977.87,267.65 979.53,271 981.2,273.7C982.87,276.4 984.33,278.4 986.2,279.9C988.07,281.4 990.53,281.77 992.4,282.7C994.27,283.63 995.53,284.1 997.4,285.5C999.27,286.9 1001.42,289.43 1003.6,291.1C1005.78,292.77 1008.42,295.18 1010.5,295.5C1012.58,295.82 1014.13,294.25 1016.1,293C1018.07,291.75 1020.43,288.97 1022.3,288C1024.17,287.03 1025.22,287.33 1027.3,287.2C1029.38,287.07 1031.88,287.27 1034.8,287.2C1037.72,287.13 1042.3,287.38 1044.8,286.8C1047.3,286.22 1048.13,285.68 1049.8,283.7C1051.47,281.72 1053.35,278.43 1054.8,274.9C1056.25,271.37 1057.27,266.65 1058.5,262.5C1059.73,258.35 1060.78,253.57 1062.2,250C1063.62,246.43 1065.37,241.75 1067,241.1C1068.63,240.45 1070.62,243.37 1072,246.1C1073.38,248.83 1074.02,253.52 1075.3,257.5C1076.58,261.48 1078.13,265.43 1079.7,270C1081.27,274.57 1083.03,279.92 1084.7,284.9C1086.37,289.88 1088.15,295.38 1089.7,299.9C1091.25,304.42 1092.83,309.18 1094,312C1095.17,314.82 1095.42,315.32 1096.7,316.8C1097.98,318.28 1099.75,319.8 1101.7,320.9C1103.65,322 1106.17,322.42 1108.4,323.4C1110.63,324.38 1112.73,325.88 1115.1,326.8C1117.47,327.72 1120.8,328.9 1122.6,328.9C1124.4,328.9 1124.65,329.1 1125.9,326.8C1127.15,324.5 1128.7,319.28 1130.1,315.1C1131.5,310.92 1132.9,305.6 1134.3,301.7C1135.7,297.8 1136.97,294.48 1138.5,291.7C1140.03,288.92 1141.58,287.93 1143.5,285C1145.42,282.07 1148.08,277.78 1150,274.1C1151.92,270.42 1153.33,267.47 1155,262.9C1156.67,258.33 1158.8,250.6 1160,246.7C1161.2,242.8 1161.53,241.18 1162.2,239.5C1162.87,237.82 1163.4,237.22 1164,236.6C1164.6,235.98 1165.17,235.73 1165.8,235.8C1166.43,235.87 1167.1,236.05 1167.8,237C1168.5,237.95 1168.6,238.02 1170,241.5C1171.4,244.98 1174.13,253.08 1176.2,257.9C1178.27,262.72 1180.57,266.72 1182.4,270.4C1184.23,274.08 1185.57,277.47 1187.2,280C1188.83,282.53 1190.32,283.73 1192.2,285.6C1194.08,287.47 1196.42,289.43 1198.5,291.2C1200.58,292.97 1202.42,294.73 1204.7,296.2C1206.98,297.67 1209.5,299 1212.2,300C1214.9,301 1218,301.68 1220.9,302.2C1223.8,302.72 1226.48,303.07 1229.6,303.1C1232.72,303.13 1236.9,303.13 1239.6,302.4C1242.3,301.67 1243.72,300.35 1245.8,298.7C1247.88,297.05 1250.4,294.3 1252.1,292.5C1253.8,290.7 1254.52,289.92 1256,287.9C1257.48,285.88 1259.55,283.73 1261,280.4C1262.45,277.07 1263.45,272.68 1264.7,267.9C1265.95,263.12 1267.35,257.52 1268.5,251.7C1269.65,245.88 1270.15,239.77 1271.6,233C1273.05,226.23 1275.45,217.45 1277.2,211.1C1278.95,204.75 1280.75,199.05 1282.1,194.9C1283.45,190.75 1283.73,188.52 1285.3,186.2C1286.87,183.88 1289.85,181.42 1291.5,181C1293.15,180.58 1294.07,180.33 1295.2,183.7C1296.33,187.07 1297.15,194.55 1298.3,201.2C1299.45,207.85 1301.15,217.63 1302.1,223.6C1303.05,229.57 1303.32,232.92 1304,237C1304.68,241.08 1305.12,243.37 1306.2,248.1C1307.28,252.83 1308.88,259.63 1310.5,265.4C1312.12,271.17 1314.27,277.3 1315.9,282.7C1317.53,288.1 1318.85,293.48 1320.3,297.8C1321.75,302.12 1322.98,305.9 1324.6,308.6C1326.22,311.3 1328.02,312.85 1330,314C1331.98,315.15 1334.33,315.5 1336.5,315.5C1338.67,315.5 1341.02,315.52 1343,314C1344.98,312.48 1346.6,310.53 1348.4,306.4C1350.2,302.27 1352,295.32 1353.8,289.2C1355.6,283.08 1357.58,273.85 1359.2,269.7C1360.82,265.55 1361.7,265.2 1363.5,264.3C1365.3,263.4 1367.85,264.12 1370,264.3C1372.15,264.48 1374.82,265.87 1376.4,265.4C1377.98,264.93 1378.6,263.57 1379.5,261.5C1380.4,259.43 1380.93,256.82 1381.8,253C1382.67,249.18 1383.67,243.43 1384.7,238.6C1385.73,233.77 1386.92,227.48 1388,224C1389.08,220.52 1389.63,217.13 1391.2,217.7C1392.77,218.27 1395.63,221.52 1397.4,227.4C1399.17,233.28 1400.6,247.33 1401.8,253C1403,258.67 1403.67,258.7 1404.6,261.4C1405.53,264.1 1405.97,266.13 1407.4,269.2C1408.83,272.27 1411.5,276.4 1413.2,279.8C1414.9,283.2 1416.05,286.32 1417.6,289.6C1419.15,292.88 1420.87,296.38 1422.5,299.5C1424.13,302.62 1425.77,305.85 1427.4,308.3C1429.03,310.75 1430.67,312.32 1432.3,314.2C1433.93,316.08 1435.32,317.92 1437.2,319.6C1439.08,321.28 1441.07,322.78 1443.6,324.3C1446.13,325.82 1449.48,327.52 1452.4,328.7C1455.32,329.88 1458.82,331.4 1461.1,331.4C1463.38,331.4 1464.43,330.6 1466.1,328.7C1467.77,326.8 1469.43,323.75 1471.1,320C1472.77,316.25 1474.85,309.87 1476.1,306.2C1477.35,302.53 1477.38,302.3 1478.6,298C1479.82,293.7 1481.97,285.4 1483.4,280.4C1484.83,275.4 1485.73,271.32 1487.2,268C1488.67,264.68 1490.12,262.38 1492.2,260.5C1494.28,258.62 1497.83,257.33 1499.7,256.7C1501.57,256.07 1502.17,256.28 1503.4,256.7C1504.63,257.12 1505.65,257.32 1507.1,259.2C1508.55,261.08 1510.43,265.08 1512.1,268C1513.77,270.92 1515.43,274.73 1517.1,276.7C1518.77,278.67 1520.43,278.87 1522.1,279.8C1523.77,280.73 1525.43,280.73 1527.1,282.3C1528.77,283.87 1530.43,286.18 1532.1,289.2C1533.77,292.22 1535.22,296.1 1537.1,300.4C1538.98,304.7 1541.32,311.43 1543.4,315C1545.48,318.57 1547.1,319.93 1549.6,321.8C1552.1,323.67 1555.7,324.63 1558.4,326.2C1561.1,327.77 1563.32,329.92 1565.8,331.2C1568.28,332.48 1571.22,333.9 1573.3,333.9C1575.38,333.9 1576.85,333.12 1578.3,331.2C1579.75,329.28 1580.75,326.15 1582,322.4C1583.25,318.65 1584.75,312.43 1585.8,308.7C1586.85,304.97 1587.18,305.45 1588.3,300C1589.42,294.55 1591.08,284 1592.5,276C1593.92,268 1595.63,258.67 1596.8,252C1597.97,245.33 1598.62,241.27 1599.5,236C1600.38,230.73 1601.18,225.07 1602.1,220.4C1603.02,215.73 1604.07,211.4 1605,208C1605.93,204.6 1606.65,203.72 1607.7,200C1608.75,196.28 1610.2,188.93 1611.3,185.7C1612.4,182.47 1613.37,181.62 1614.3,180.6C1615.23,179.58 1615.87,179.6 1616.9,179.6C1617.93,179.6 1619.23,179.75 1620.5,180.6C1621.77,181.45 1623.15,182.83 1624.5,184.7C1625.85,186.57 1627.4,189.25 1628.6,191.8C1629.8,194.35 1630.68,196.93 1631.7,200C1632.72,203.07 1633.68,206.28 1634.7,210.2C1635.72,214.12 1636.87,219.58 1637.8,223.5C1638.73,227.42 1639.45,230.48 1640.3,233.7C1641.15,236.92 1641.78,239.55 1642.9,242.8C1644.02,246.05 1645.47,250.12 1647,253.2C1648.53,256.28 1650.4,258.93 1652.1,261.3C1653.8,263.67 1655.67,265.18 1657.2,267.4C1658.73,269.62 1659.77,271.7 1661.3,274.6C1662.83,277.5 1664.53,281.23 1666.4,284.8C1668.27,288.37 1669.13,291.78 1672.5,296C1675.87,300.22 1682.87,309.58 1686.6,310.1C1690.33,310.62 1692.6,304.15 1694.9,299.1C1697.2,294.05 1698.12,286.22 1700.4,279.8C1702.68,273.38 1706.08,266.65 1708.6,260.6C1711.12,254.55 1714.35,246.35 1715.5,243.5" fill="none" stroke="#ff2a2a" stroke-width="2" stroke-linecap="round" stroke-linejoin="round"/><g transform="translate(55.72,251.2) scale(0.95,1)"><use href="#cl" fill="url(#cg)" stroke="#7fc2e8" stroke-width="1" vector-effect="non-scaling-stroke"/></g><g transform="translate(83.72,314.4) scale(0.95,1)"><use href="#cl" fill="url(#cg)" stroke="#7fc2e8" stroke-width="1" vector-effect="non-scaling-stroke"/></g><g transform="translate(112.72,293.9) scale(0.95,1)"><use href="#cl" fill="url(#cg)" stroke="#7fc2e8" stroke-width="1" vector-effect="non-scaling-stroke"/></g><g transform="translate(140.72,274.2) scale(0.95,1)"><use href="#cl" fill="url(#cg)" stroke="#7fc2e8" stroke-width="1" vector-effect="non-scaling-stroke"/></g><use href="#dr" x="146.9" y="282.8" fill="#0b5fa8"/><use href="#dr" x="151.2" y="283.6" fill="#0b5fa8"/><use href="#dr" x="147.2" y="286.9" fill="#0b5fa8"/><use href="#dr" x="154.6" y="286.5" fill="#0b5fa8"/><g transform="translate(168.52,279.1) scale(0.95,1)"><use href="#cl" fill="url(#cg)" stroke="#7fc2e8" stroke-width="1" vector-effect="non-scaling-stroke"/></g><use href="#dr" x="180.1" y="291.3" fill="#0b5fa8"/><g transform="translate(196.52,288.6) scale(0.95,1)"><use href="#cl" fill="url(#cg)" stroke="#7fc2e8" stroke-width="1" vector-effect="non-scaling-stroke"/></g><use href="#dr" x="208.1" y="300.8" fill="#0b5fa8"/><g transform="translate(224.52,288.9) scale(0.95,1)"><use href="#cl" fill="url(#cg)" stroke="#7fc2e8" stroke-width="1" vector-effect="non-scaling-stroke"/></g><g transform="translate(253.12,242.4) scale(0.95,1)"><use href="#cl" fill="url(#cg)" stroke="#7fc2e8" stroke-width="1" vector-effect="non-scaling-stroke"/></g><use href="#dr" x="259.3" y="251" fill="#0b5fa8"/><use href="#dr" x="263.6" y="251.8" fill="#0b5fa8"/><use href="#dr" x="259.6" y="255.1" fill="#0b5fa8"/><use href="#dr" x="267" y="254.7" fill="#0b5fa8"/><g transform="translate(281.92,270.2) scale(0.95,1)"><use href="#cl" fill="url(#cg)" stroke="#7fc2e8" stroke-width="1" vector-effect="non-scaling-stroke"/></g><use href="#dr" x="288.1" y="278.8" fill="#0b5fa8"/><use href="#dr" x="292.4" y="279.6" fill="#0b5fa8"/><use href="#dr" x="288.4" y="282.9" fill="#0b5fa8"/><use href="#dr" x="295.8" y="282.5" fill="#0b5fa8"/><g transform="translate(309.32,304.6) scale(0.95,1)"><use href="#cl" fill="url(#cg)" stroke="#7fc2e8" stroke-width="1" vector-effect="non-scaling-stroke"/></g><g transform="translate(343.4,318.7) scale(0.9)"><use href="#sunr"/></g><g transform="translate(340.04,318.74) scale(0.88,0.93)"><use href="#cl" fill="url(#cgb)" stroke="#7fc2e8" stroke-width="1" vector-effect="non-scaling-stroke"/></g><g transform="translate(365.52,224) scale(0.95,1)"><use href="#cl" fill="url(#cg)" stroke="#7fc2e8" stroke-width="1" vector-effect="non-scaling-stroke"/></g><use href="#sunr" x="401.1" y="282"/><g transform="translate(401.04,283.33) scale(0.63,0.66)"><use href="#cl" fill="url(#cgb)" stroke="#7fc2e8" stroke-width="1" vector-effect="non-scaling-stroke"/></g><g transform="translate(431,359.8)"><circle r="5.6" fill="#f3efb8" stroke="#444" stroke-width="0.9"/><path d="M0,-5.4 A5.4,5.4 0 0 0 0,5.4 A2.2,5.4 0 0 0 0,-5.4Z" fill="#5a5a5a"/><circle r="5.6" fill="none" stroke="#444" stroke-width="0.9"/></g><g transform="translate(450.72,315.6) scale(0.95,1)"><use href="#cl" fill="url(#cg)" stroke="#7fc2e8" stroke-width="1" vector-effect="non-scaling-stroke"/></g><g transform="translate(478.42,163.8) scale(0.95,1)"><use href="#cl" fill="url(#cg)" stroke="#7fc2e8" stroke-width="1" vector-effect="non-scaling-stroke"/></g><g transform="translate(506.62,254.3) scale(0.95,1)"><use href="#cl" fill="url(#cg)" stroke="#7fc2e8" stroke-width="1" vector-effect="non-scaling-stroke"/></g><g transform="translate(534.52,303.5) scale(0.95,1)"><use href="#cl" fill="url(#cg)" stroke="#7fc2e8" stroke-width="1" vector-effect="non-scaling-stroke"/></g><g transform="translate(562.52,237.2) scale(0.95,1)"><use href="#cl" fill="url(#cg)" stroke="#7fc2e8" stroke-width="1" vector-effect="non-scaling-stroke"/></g><g transform="translate(590.62,220.4) scale(0.95,1)"><use href="#cl" fill="url(#cg)" stroke="#7fc2e8" stroke-width="1" vector-effect="non-scaling-stroke"/></g><use href="#dr" x="596.8" y="229" fill="#0b5fa8"/><use href="#dr" x="601.1" y="229.8" fill="#0b5fa8"/><use href="#dr" x="597.1" y="233.1" fill="#0b5fa8"/><use href="#dr" x="604.5" y="232.7" fill="#0b5fa8"/><g transform="translate(619.42,239.3) scale(0.95,1)"><use href="#cl" fill="url(#cg)" stroke="#7fc2e8" stroke-width="1" vector-effect="non-scaling-stroke"/></g><use href="#dr" x="631" y="251.5" fill="#0b5fa8"/><g transform="translate(647.62,267.5) scale(0.95,1)"><use href="#cl" fill="url(#cg)" stroke="#7fc2e8" stroke-width="1" vector-effect="non-scaling-stroke"/></g><use href="#dr" x="659.2" y="279.7" fill="#0b5fa8"/><g transform="translate(675.62,247.3) scale(0.95,1)"><use href="#cl" fill="url(#cg)" stroke="#7fc2e8" stroke-width="1" vector-effect="non-scaling-stroke"/></g><g transform="translate(708.3,128.4) scale(0.9)"><use href="#sunr"/></g><g transform="translate(704.94,128.44) scale(0.88,0.93)"><use href="#cl" fill="url(#cgb)" stroke="#7fc2e8" stroke-width="1" vector-effect="non-scaling-stroke"/></g><g transform="translate(731.62,224.1) scale(0.95,1)"><use href="#cl" fill="url(#cg)" stroke="#7fc2e8" stroke-width="1" vector-effect="non-scaling-stroke"/></g><use href="#dr" x="743.2" y="236.3" fill="#0b5fa8"/><g transform="translate(759.22,288.3) scale(0.95,1)"><use href="#cl" fill="url(#cg)" stroke="#7fc2e8" stroke-width="1" vector-effect="non-scaling-stroke"/></g><g transform="translate(788.82,274.4) scale(0.95,1)"><use href="#cl" fill="url(#cg)" stroke="#7fc2e8" stroke-width="1" vector-effect="non-scaling-stroke"/></g><g transform="translate(816.72,102.9) scale(0.95,1)"><use href="#cl" fill="url(#cg)" stroke="#7fc2e8" stroke-width="1" vector-effect="non-scaling-stroke"/></g><g transform="translate(844.42,221.5) scale(0.95,1)"><use href="#cl" fill="url(#dg)" stroke="#2e4450" stroke-width="1" vector-effect="non-scaling-stroke"/></g><g transform="translate(850.9,230.9) scale(0.85)"><use href="#dr" fill="#0b5fa8"/></g><g transform="translate(855.2,232.8) scale(0.85)"><use href="#dr" fill="#0b5fa8"/></g><g transform="translate(846.5,234.1) scale(0.85)"><use href="#dr" fill="#0b5fa8"/></g><g transform="translate(851.3,234.9) scale(0.85)"><use href="#dr" fill="#0b5fa8"/></g><g transform="translate(858.3,235) scale(0.85)"><use href="#dr" fill="#0b5fa8"/></g><g transform="translate(854.4,237.1) scale(0.85)"><use href="#dr" fill="#0b5fa8"/></g><g transform="translate(872.72,245.1) scale(0.95,1)"><use href="#cl" fill="url(#dg)" stroke="#2e4450" stroke-width="1" vector-effect="non-scaling-stroke"/></g><g transform="translate(879.2,254.5) scale(0.85)"><use href="#dr" fill="#0b5fa8"/></g><g transform="translate(883.5,256.4) scale(0.85)"><use href="#dr" fill="#0b5fa8"/></g><g transform="translate(874.8,257.7) scale(0.85)"><use href="#dr" fill="#0b5fa8"/></g><g transform="translate(879.6,258.5) scale(0.85)"><use href="#dr" fill="#0b5fa8"/></g><g transform="translate(886.6,258.6) scale(0.85)"><use href="#dr" fill="#0b5fa8"/></g><g transform="translate(882.7,260.7) scale(0.85)"><use href="#dr" fill="#0b5fa8"/></g><g transform="translate(900.72,244.3) scale(0.95,1)"><use href="#cl" fill="url(#cg)" stroke="#7fc2e8" stroke-width="1" vector-effect="non-scaling-stroke"/></g><use href="#dr" x="906.9" y="252.9" fill="#0b5fa8"/><use href="#dr" x="911.2" y="253.7" fill="#0b5fa8"/><use href="#dr" x="907.2" y="257" fill="#0b5fa8"/><use href="#dr" x="914.6" y="256.6" fill="#0b5fa8"/><g transform="translate(928.62,165.6) scale(0.95,1)"><use href="#cl" fill="url(#cg)" stroke="#7fc2e8" stroke-width="1" vector-effect="non-scaling-stroke"/></g><use href="#dr" x="934.8" y="174.2" fill="#0b5fa8"/><use href="#dr" x="939.1" y="175" fill="#0b5fa8"/><use href="#dr" x="935.1" y="178.3" fill="#0b5fa8"/><use href="#dr" x="942.5" y="177.9" fill="#0b5fa8"/><g transform="translate(957.62,214.4) scale(0.95,1)"><use href="#cl" fill="url(#cg)" stroke="#7fc2e8" stroke-width="1" vector-effect="non-scaling-stroke"/></g><g transform="translate(985.72,260.4) scale(0.95,1)"><use href="#cl" fill="url(#cg)" stroke="#7fc2e8" stroke-width="1" vector-effect="non-scaling-stroke"/></g><g transform="translate(1013.62,263.4) scale(0.95,1)"><use href="#cl" fill="url(#cg)" stroke="#7fc2e8" stroke-width="1" vector-effect="non-scaling-stroke"/></g><use href="#dr" x="1019.8" y="272" fill="#0b5fa8"/><use href="#dr" x="1024.1" y="272.8" fill="#0b5fa8"/><use href="#dr" x="1020.1" y="276.1" fill="#0b5fa8"/><use href="#dr" x="1027.5" y="275.7" fill="#0b5fa8"/><g transform="translate(1041.52,254.5) scale(0.95,1)"><use href="#cl" fill="url(#cg)" stroke="#7fc2e8" stroke-width="1" vector-effect="non-scaling-stroke"/></g><use href="#dr" x="1053.1" y="266.7" fill="#0b5fa8"/><g transform="translate(1069.42,247.6) scale(0.95,1)"><use href="#cl" fill="url(#cg)" stroke="#7fc2e8" stroke-width="1" vector-effect="non-scaling-stroke"/></g><g transform="translate(1097.52,299.4) scale(0.95,1)"><use href="#cl" fill="url(#cg)" stroke="#7fc2e8" stroke-width="1" vector-effect="non-scaling-stroke"/></g><g transform="translate(1126.62,268.6) scale(0.95,1)"><use href="#cl" fill="url(#cg)" stroke="#7fc2e8" stroke-width="1" vector-effect="non-scaling-stroke"/></g><g transform="translate(1154.62,211.4) scale(0.95,1)"><use href="#cl" fill="url(#cg)" stroke="#7fc2e8" stroke-width="1" vector-effect="non-scaling-stroke"/></g><use href="#dr" x="1160.8" y="220" fill="#0b5fa8"/><use href="#dr" x="1165.1" y="220.8" fill="#0b5fa8"/><use href="#dr" x="1161.1" y="224.1" fill="#0b5fa8"/><use href="#dr" x="1168.5" y="223.7" fill="#0b5fa8"/><g transform="translate(1182.92,263.8) scale(0.95,1)"><use href="#cl" fill="url(#cg)" stroke="#7fc2e8" stroke-width="1" vector-effect="non-scaling-stroke"/></g><use href="#dr" x="1194.5" y="276" fill="#0b5fa8"/><g transform="translate(1210.42,278.8) scale(0.95,1)"><use href="#cl" fill="url(#cg)" stroke="#7fc2e8" stroke-width="1" vector-effect="non-scaling-stroke"/></g><g transform="translate(1238.62,270.6) scale(0.95,1)"><use href="#cl" fill="url(#cg)" stroke="#7fc2e8" stroke-width="1" vector-effect="non-scaling-stroke"/></g><use href="#dr" x="1250.2" y="282.8" fill="#0b5fa8"/><g transform="translate(1272,182.4) scale(0.9)"><use href="#sunr"/></g><g transform="translate(1268.64,182.44) scale(0.88,0.93)"><use href="#cl" fill="url(#cgb)" stroke="#7fc2e8" stroke-width="1" vector-effect="non-scaling-stroke"/></g><use href="#dr" x="1280.9" y="194.1" fill="#0b5fa8"/><use href="#sunr" x="1304.3" y="230"/><g transform="translate(1323.42,290.6) scale(0.95,1)"><use href="#cl" fill="url(#cg)" stroke="#7fc2e8" stroke-width="1" vector-effect="non-scaling-stroke"/></g><g transform="translate(1351.62,239.2) scale(0.95,1)"><use href="#cl" fill="url(#cg)" stroke="#7fc2e8" stroke-width="1" vector-effect="non-scaling-stroke"/></g><g transform="translate(1379.62,193.4) scale(0.95,1)"><use href="#cl" fill="url(#cg)" stroke="#7fc2e8" stroke-width="1" vector-effect="non-scaling-stroke"/></g><use href="#dr" x="1385.8" y="202" fill="#0b5fa8"/><use href="#dr" x="1390.1" y="202.8" fill="#0b5fa8"/><use href="#dr" x="1386.1" y="206.1" fill="#0b5fa8"/><use href="#dr" x="1393.5" y="205.7" fill="#0b5fa8"/><g transform="translate(1407.82,267.7) scale(0.95,1)"><use href="#cl" fill="url(#cg)" stroke="#7fc2e8" stroke-width="1" vector-effect="non-scaling-stroke"/></g><use href="#dr" x="1414" y="276.3" fill="#0b5fa8"/><use href="#dr" x="1418.3" y="277.1" fill="#0b5fa8"/><use href="#dr" x="1414.3" y="280.4" fill="#0b5fa8"/><use href="#dr" x="1421.7" y="280" fill="#0b5fa8"/><g transform="translate(1435.72,301.2) scale(0.95,1)"><use href="#cl" fill="url(#cg)" stroke="#7fc2e8" stroke-width="1" vector-effect="non-scaling-stroke"/></g><use href="#dr" x="1441.9" y="309.8" fill="#0b5fa8"/><use href="#dr" x="1446.2" y="310.6" fill="#0b5fa8"/><use href="#dr" x="1442.2" y="313.9" fill="#0b5fa8"/><use href="#dr" x="1449.6" y="313.5" fill="#0b5fa8"/><g transform="translate(1464.42,283.2) scale(0.95,1)"><use href="#cl" fill="url(#cg)" stroke="#7fc2e8" stroke-width="1" vector-effect="non-scaling-stroke"/></g><g transform="translate(1492.62,232.8) scale(0.95,1)"><use href="#cl" fill="url(#cg)" stroke="#7fc2e8" stroke-width="1" vector-effect="non-scaling-stroke"/></g><use href="#dr" x="1498.8" y="241.4" fill="#0b5fa8"/><use href="#dr" x="1503.1" y="242.2" fill="#0b5fa8"/><use href="#dr" x="1499.1" y="245.5" fill="#0b5fa8"/><use href="#dr" x="1506.5" y="245.1" fill="#0b5fa8"/><g transform="translate(1520.72,261.4) scale(0.95,1)"><use href="#cl" fill="url(#cg)" stroke="#7fc2e8" stroke-width="1" vector-effect="non-scaling-stroke"/></g><use href="#dr" x="1526.9" y="270" fill="#0b5fa8"/><use href="#dr" x="1531.2" y="270.8" fill="#0b5fa8"/><use href="#dr" x="1527.2" y="274.1" fill="#0b5fa8"/><use href="#dr" x="1534.6" y="273.7" fill="#0b5fa8"/><g transform="translate(1548.52,302.7) scale(0.95,1)"><use href="#cl" fill="url(#cg)" stroke="#7fc2e8" stroke-width="1" vector-effect="non-scaling-stroke"/></g><use href="#sunr" x="1583.9" y="280.5"/><g transform="translate(1583.84,281.83) scale(0.63,0.66)"><use href="#cl" fill="url(#cgb)" stroke="#7fc2e8" stroke-width="1" vector-effect="non-scaling-stroke"/></g><g transform="translate(1604.72,155.2) scale(0.95,1)"><use href="#cl" fill="url(#cg)" stroke="#7fc2e8" stroke-width="1" vector-effect="non-scaling-stroke"/></g><g transform="translate(1633.52,222.4) scale(0.95,1)"><use href="#cl" fill="url(#cg)" stroke="#7fc2e8" stroke-width="1" vector-effect="non-scaling-stroke"/></g><g transform="translate(1661.62,271.7) scale(0.95,1)"><use href="#cl" fill="url(#cg)" stroke="#7fc2e8" stroke-width="1" vector-effect="non-scaling-stroke"/></g><g transform="translate(1689.52,251.6) scale(0.95,1)"><use href="#cl" fill="url(#cg)" stroke="#7fc2e8" stroke-width="1" vector-effect="non-scaling-stroke"/></g><g font-size="9" font-weight="bold" fill="#000" text-anchor="middle" stroke="#fff" stroke-width="2" stroke-linejoin="round" paint-order="stroke"><text x="152" y="400.9">1.5</text><text x="166" y="382.8">2.6</text><text x="180" y="417.7">0.5</text><text x="194" y="380.8">2.7</text><text x="208" y="408.8">1.0</text><text x="222" y="422.6">0.2</text><text x="236" y="423.5">0.1</text><text x="250" y="416.7">0.6</text><text x="264" y="384.7">2.4</text><text x="278" y="396.6">1.8</text><text x="292.5" y="396.6">1.8</text><text x="307" y="418.7">0.4</text><text x="321" y="424.9">0.1</text><text x="363" y="424.9">0.1</text><text x="377" y="424.9">0.1</text><text x="588" y="424.9">0.1</text><text x="602" y="394.7">1.9</text><text x="616" y="413.6">0.7</text><text x="630.5" y="409.9">0.9</text><text x="645" y="419.7">0.4</text><text x="659" y="418.7">0.4</text><text x="673" y="424.9">0.1</text><text x="687" y="424.9">0.1</text><text x="743" y="412.7">0.8</text><text x="757" y="417.6">0.5</text><text x="842" y="405.9">1.2</text><text x="856" y="301.8">7.4</text><text x="870" y="150.8">16.4</text><text x="884" y="335">5.4</text><text x="898" y="336.8">5.3</text><text x="912" y="382.7">2.6</text><text x="926" y="419.5">0.4</text><text x="940" y="407.9">1.1</text><text x="954.5" y="421.8">0.3</text><text x="969" y="424.9">0.1</text><text x="1025" y="341.8">5.0</text><text x="1039" y="291.8">8.0</text><text x="1053" y="408.8">1.0</text><text x="1067" y="420.7">0.3</text><text x="1081" y="423.7">0.1</text><text x="1138" y="424.9">0.1</text><text x="1152" y="418.7">0.4</text><text x="1166" y="397.7">1.7</text><text x="1180" y="392.6">1.9</text><text x="1194" y="419.6">0.4</text><text x="1208" y="423.5">0.1</text><text x="1222" y="422.6">0.2</text><text x="1236" y="416.7">0.6</text><text x="1250" y="418.7">0.4</text><text x="1264" y="421.5">0.3</text><text x="1278" y="419.6">0.4</text><text x="1292.5" y="423.5">0.1</text><text x="1377" y="422.6">0.2</text><text x="1391" y="401.6">1.4</text><text x="1405" y="370.6">3.3</text><text x="1419" y="393.5">1.9</text><text x="1433" y="353.8">4.3</text><text x="1447" y="401.6">1.4</text><text x="1461.5" y="421.6">0.3</text><text x="1490" y="415.8">0.6</text><text x="1504" y="398.7">1.6</text><text x="1518" y="396.6">1.8</text><text x="1532" y="399.7">1.6</text><text x="1546" y="416.8">0.6</text><text x="1560" y="424.9">0.1</text><text x="1574" y="423.6">0.1</text><text x="1602" y="423.6">0.1</text><text x="1616" y="423.6">0.1</text><text x="1630.5" y="423.6">0.1</text><text x="1645" y="422.8">0.2</text><text x="1659" y="424.9">0.1</text><text x="1673" y="424.9">0.1</text></g><g stroke-linejoin="miter"><path d="M56.3,445.3L41.03,450.86" stroke="#000" stroke-width="1.8" fill="none"/><path d="M36.8,452.4L41.08,448.08L42.86,452.96Z" fill="#000"/><path d="M56.3,445.3L58.9,452.1" stroke="#000" stroke-width="1.6" fill="none" stroke-linecap="butt"/><path d="M99.7,447.6L82.88,449.34" stroke="#000" stroke-width="1.8" fill="none"/><path d="M78.4,449.8L83.6,446.65L84.14,451.82Z" fill="#000"/><path d="M99.7,447.6L100,454.1" stroke="#000" stroke-width="1.6" fill="none" stroke-linecap="butt"/><path d="M122.6,452.1L137.95,446.77" stroke="#000" stroke-width="1.8" fill="none"/><path d="M142.2,445.3L137.86,449.56L136.15,444.65Z" fill="#000"/><path d="M122.6,452.1L122.6,448.1" stroke="#000" stroke-width="1.6" fill="none" stroke-linecap="butt"/><path d="M168.5,456.6L177.39,443.34" stroke="#000" stroke-width="1.8" fill="none"/><path d="M179.9,439.6L179,445.62L174.68,442.72Z" fill="#000"/><path d="M168.5,456.6L166,453.8" stroke="#000" stroke-width="1.6" fill="none" stroke-linecap="butt"/><path d="M208.1,455L221.04,444.96" stroke="#000" stroke-width="1.8" fill="none"/><path d="M224.6,442.2L221.85,447.63L218.66,443.52Z" fill="#000"/><path d="M208.1,455L203.4,449.8" stroke="#000" stroke-width="1.6" fill="none" stroke-linecap="butt"/><path d="M249.3,447.6L265.23,449.32" stroke="#000" stroke-width="1.8" fill="none"/><path d="M269.7,449.8L263.95,451.8L264.51,446.63Z" fill="#000"/><path d="M249.3,447.6L250.1,444.2" stroke="#000" stroke-width="1.6" fill="none" stroke-linecap="butt"/><path d="M296.9,440.8L303.43,454.25" stroke="#000" stroke-width="1.8" fill="none"/><path d="M305.4,458.3L300.66,454.49L305.34,452.22Z" fill="#000"/><path d="M296.9,440.8L300.3,439.6" stroke="#000" stroke-width="1.6" fill="none" stroke-linecap="butt"/><path d="M348,440.8L338.97,454.54" stroke="#000" stroke-width="1.8" fill="none"/><path d="M336.5,458.3L337.35,452.28L341.69,455.13Z" fill="#000"/><path d="M348,440.8L350.6,443.9" stroke="#000" stroke-width="1.6" fill="none" stroke-linecap="butt"/><path d="M392.8,443L379.95,453.03" stroke="#000" stroke-width="1.8" fill="none"/><path d="M376.4,455.8L379.14,450.37L382.34,454.47Z" fill="#000"/><path d="M392.8,443L393.9,446.4" stroke="#000" stroke-width="1.6" fill="none" stroke-linecap="butt"/><path d="M436.9,448.5L420.5,449.13" stroke="#000" stroke-width="1.8" fill="none"/><path d="M416,449.3L421.4,446.49L421.6,451.69Z" fill="#000"/><path d="M436.9,448.5L435.9,452.1" stroke="#000" stroke-width="1.6" fill="none" stroke-linecap="butt"/><path d="M478.9,449L463,449" stroke="#000" stroke-width="1.8" fill="none"/><path d="M458.5,449L464,446.4L464,451.6Z" fill="#000"/><path d="M478.9,449L477.7,452.7" stroke="#000" stroke-width="1.6" fill="none" stroke-linecap="butt"/><path d="M521.4,446.4L505.34,450.73" stroke="#000" stroke-width="1.8" fill="none"/><path d="M501,451.9L505.63,447.96L506.99,452.98Z" fill="#000"/><path d="M521.4,446.4L520.6,450.4" stroke="#000" stroke-width="1.6" fill="none" stroke-linecap="butt"/><path d="M549,456.6L557.56,443.38" stroke="#000" stroke-width="1.8" fill="none"/><path d="M560,439.6L559.2,445.63L554.83,442.81Z" fill="#000"/><path d="M549,456.6L546.4,453.8" stroke="#000" stroke-width="1.6" fill="none" stroke-linecap="butt"/><path d="M587.2,445.9L603.02,451.02" stroke="#000" stroke-width="1.8" fill="none"/><path d="M607.3,452.4L601.27,453.18L602.87,448.23Z" fill="#000"/><path d="M587.2,445.9L589.4,443" stroke="#000" stroke-width="1.6" fill="none" stroke-linecap="butt"/><path d="M631.2,455L643.63,444.76" stroke="#000" stroke-width="1.8" fill="none"/><path d="M647.1,441.9L644.51,447.4L641.2,443.39Z" fill="#000"/><path d="M631.2,455L629.5,451.5" stroke="#000" stroke-width="1.6" fill="none" stroke-linecap="butt"/><path d="M670.9,449.3L687.6,448.67" stroke="#000" stroke-width="1.8" fill="none"/><path d="M692.1,448.5L686.7,451.31L686.51,446.11Z" fill="#000"/><path d="M726.4,440L721.1,454.96" stroke="#000" stroke-width="1.8" fill="none"/><path d="M719.6,459.2L718.99,453.15L723.89,454.88Z" fill="#000"/><path d="M726.4,440L729.3,442.5" stroke="#000" stroke-width="1.6" fill="none" stroke-linecap="butt"/><path d="M774.5,447.6L758.55,450.02" stroke="#000" stroke-width="1.8" fill="none"/><path d="M754.1,450.7L759.15,447.3L759.93,452.44Z" fill="#000"/><path d="M774.5,447.6L773.5,451.5" stroke="#000" stroke-width="1.6" fill="none" stroke-linecap="butt"/><path d="M817,448.5L801.1,448.89" stroke="#000" stroke-width="1.8" fill="none"/><path d="M796.6,449L802.03,446.27L802.16,451.46Z" fill="#000"/><path d="M817,448.5L816,452.1" stroke="#000" stroke-width="1.6" fill="none" stroke-linecap="butt"/><path d="M854.8,441.3L846.21,454.07" stroke="#000" stroke-width="1.8" fill="none"/><path d="M843.7,457.8L844.61,451.79L848.93,454.69Z" fill="#000"/><path d="M854.8,441.3L857.3,443.9" stroke="#000" stroke-width="1.6" fill="none" stroke-linecap="butt"/><path d="M883.3,453.6L897.56,445.77" stroke="#000" stroke-width="1.8" fill="none"/><path d="M901.5,443.6L897.93,448.53L895.43,443.97Z" fill="#000"/><path d="M883.3,453.6L882.8,450.4" stroke="#000" stroke-width="1.6" fill="none" stroke-linecap="butt"/><path d="M924.6,445.9L940.69,450.79" stroke="#000" stroke-width="1.8" fill="none"/><path d="M945,452.1L938.98,452.99L940.49,448.01Z" fill="#000"/><path d="M924.6,445.9L925.8,439.6" stroke="#000" stroke-width="1.6" fill="none" stroke-linecap="butt"/><path d="M985.8,445.3L970.44,451.84" stroke="#000" stroke-width="1.8" fill="none"/><path d="M966.3,453.6L970.34,449.05L972.38,453.84Z" fill="#000"/><path d="M985.8,445.3L985,449" stroke="#000" stroke-width="1.6" fill="none" stroke-linecap="butt"/><path d="M1022.7,439.6L1016.4,455.03" stroke="#000" stroke-width="1.8" fill="none"/><path d="M1014.7,459.2L1014.37,453.13L1019.19,455.09Z" fill="#000"/><path d="M1059.8,457.5L1062.12,442.45" stroke="#000" stroke-width="1.8" fill="none"/><path d="M1062.8,438L1064.53,443.83L1059.39,443.04Z" fill="#000"/><path d="M1059.8,457.5L1056.4,456.6" stroke="#000" stroke-width="1.6" fill="none" stroke-linecap="butt"/><path d="M1099.2,457.2L1105.79,443.17" stroke="#000" stroke-width="1.8" fill="none"/><path d="M1107.7,439.1L1107.72,445.18L1103.01,442.97Z" fill="#000"/><path d="M1099.2,457.2L1096.8,454.6" stroke="#000" stroke-width="1.6" fill="none" stroke-linecap="butt"/><path d="M1136.6,452.4L1151.66,445.97" stroke="#000" stroke-width="1.8" fill="none"/><path d="M1155.8,444.2L1151.76,448.75L1149.72,443.97Z" fill="#000"/><path d="M1136.6,452.4L1136.6,448.7" stroke="#000" stroke-width="1.6" fill="none" stroke-linecap="butt"/><path d="M1179.6,453.8L1193.27,445.36" stroke="#000" stroke-width="1.8" fill="none"/><path d="M1197.1,443L1193.79,448.1L1191.05,443.68Z" fill="#000"/><path d="M1179.6,453.8L1178.8,450.4" stroke="#000" stroke-width="1.6" fill="none" stroke-linecap="butt"/><path d="M1221.4,453.2L1236.05,446.15" stroke="#000" stroke-width="1.8" fill="none"/><path d="M1240.1,444.2L1236.27,448.93L1234.02,444.24Z" fill="#000"/><path d="M1269.9,458.7L1273.5,442.89" stroke="#000" stroke-width="1.8" fill="none"/><path d="M1274.5,438.5L1275.81,444.44L1270.74,443.29Z" fill="#000"/><path d="M1324.3,447.6L1307.96,449.8" stroke="#000" stroke-width="1.8" fill="none"/><path d="M1303.5,450.4L1308.6,447.09L1309.3,452.24Z" fill="#000"/><path d="M1324.3,447.6L1323.4,451.5" stroke="#000" stroke-width="1.6" fill="none" stroke-linecap="butt"/><path d="M1348.4,453.2L1362.4,445.97" stroke="#000" stroke-width="1.8" fill="none"/><path d="M1366.4,443.9L1362.71,448.73L1360.32,444.11Z" fill="#000"/><path d="M1348.4,453.2L1347.7,449.8" stroke="#000" stroke-width="1.6" fill="none" stroke-linecap="butt"/><path d="M1389.7,447L1405.19,450.11" stroke="#000" stroke-width="1.8" fill="none"/><path d="M1409.6,451L1403.7,452.47L1404.72,447.37Z" fill="#000"/><path d="M1389.7,447L1391.4,443.6" stroke="#000" stroke-width="1.6" fill="none" stroke-linecap="butt"/><path d="M1432.2,453.8L1446.95,445.75" stroke="#000" stroke-width="1.8" fill="none"/><path d="M1450.9,443.6L1447.32,448.52L1444.83,443.95Z" fill="#000"/><path d="M1432.2,453.8L1429.3,448.1" stroke="#000" stroke-width="1.6" fill="none" stroke-linecap="butt"/><path d="M1475,453.2L1487.54,446.44" stroke="#000" stroke-width="1.8" fill="none"/><path d="M1491.5,444.3L1487.89,449.2L1485.42,444.62Z" fill="#000"/><path d="M1475,453.2L1473.9,449.8" stroke="#000" stroke-width="1.6" fill="none" stroke-linecap="butt"/><path d="M1516.3,448.1L1531.91,449.03" stroke="#000" stroke-width="1.8" fill="none"/><path d="M1536.4,449.3L1530.75,451.57L1531.06,446.38Z" fill="#000"/><path d="M1516.3,448.1L1517.7,444.2" stroke="#000" stroke-width="1.6" fill="none" stroke-linecap="butt"/><path d="M1560.2,453.8L1573.4,445.41" stroke="#000" stroke-width="1.8" fill="none"/><path d="M1577.2,443L1573.95,448.14L1571.16,443.75Z" fill="#000"/><path d="M1560.2,453.8L1559.3,450.7" stroke="#000" stroke-width="1.6" fill="none" stroke-linecap="butt"/><path d="M1602.3,445.3L1616.41,451.73" stroke="#000" stroke-width="1.8" fill="none"/><path d="M1620.5,453.6L1614.42,453.68L1616.57,448.95Z" fill="#000"/><path d="M1602.3,445.3L1604.4,442.5" stroke="#000" stroke-width="1.6" fill="none" stroke-linecap="butt"/><path d="M1644.3,443.6L1658.08,452.97" stroke="#000" stroke-width="1.8" fill="none"/><path d="M1661.8,455.5L1655.79,454.56L1658.71,450.26Z" fill="#000"/><path d="M1686.8,454.1L1700.08,445.04" stroke="#000" stroke-width="1.8" fill="none"/><path d="M1703.8,442.5L1700.72,447.75L1697.79,443.45Z" fill="#000"/><path d="M1686.8,454.1L1686,451" stroke="#000" stroke-width="1.6" fill="none" stroke-linecap="butt"/></g><text x="882.5" y="27" font-size="16" fill="#333" text-anchor="middle">GFS München 80331 (DE) 48N, 11.5E</text><text x="750" y="40" font-size="12" fill="#666" textLength="146" lengthAdjust="spacingAndGlyphs">Init: Sun, 30Apr2023 12Z</text><text x="923.7" y="40" font-size="12" fill="#666">06:01</text><text x="983.7" y="40" font-size="12" fill="#666">20:21</text><g transform="translate(910.2,0)" stroke="#000" fill="none"><path d="M-9,45.3H9" stroke-width="1.4"/><path d="M-3.7,45.2 A3.7,3.7 0 0 1 3.7,45.2" stroke-width="1.3"/><path d="M0,39.2L0,36.4" stroke-width="1.4"/><path d="M3.18,40.11L4.66,37.74" stroke-width="1.4"/><path d="M-3.18,40.11L-4.66,37.74" stroke-width="1.4"/><path d="M5.3,42.38L7.77,41.07" stroke-width="1.4"/><path d="M-5.3,42.38L-7.77,41.07" stroke-width="1.4"/><path d="M0,34.6V31.2" stroke-width="1.7"/><path d="M-2.4,31.9L0,28.2L2.4,31.9Z" fill="#000" stroke="none"/></g><g transform="translate(970,0)" stroke="#000" fill="none"><path d="M-9,45.3H9" stroke-width="1.4"/><path d="M-3.7,45.2 A3.7,3.7 0 0 1 3.7,45.2" stroke-width="1.3"/><path d="M0,39.2L0,36.4" stroke-width="1.4"/><path d="M3.18,40.11L4.66,37.74" stroke-width="1.4"/><path d="M-3.18,40.11L-4.66,37.74" stroke-width="1.4"/><path d="M5.3,42.38L7.77,41.07" stroke-width="1.4"/><path d="M-5.3,42.38L-7.77,41.07" stroke-width="1.4"/><path d="M0,28.2V31.6" stroke-width="1.7"/><path d="M-2.4,30.9L0,34.6L2.4,30.9Z" fill="#000" stroke="none"/></g><path d="M1733.5,20.5H1748.5M1733.5,25.5H1748.5M1733.5,30.5H1748.5" stroke="#666" stroke-width="2.6" stroke-linecap="round"/><g font-size="12" fill="#666"><text x="82.36" y="74.9"><tspan font-weight="bold" letter-spacing="0.3">Mon</tspan><tspan font-size="11.5"> May 1</tspan></text><text x="195.04" y="74.9"><tspan font-weight="bold" letter-spacing="0.3">Tue</tspan><tspan font-size="11.5"> May 2</tspan></text><text x="307.72" y="74.9"><tspan font-weight="bold" letter-spacing="0.3">Wed</tspan><tspan font-size="11.5"> May 3</tspan></text><text x="420.4" y="74.9"><tspan font-weight="bold" letter-spacing="0.3">Thu</tspan><tspan font-size="11.5"> May 4</tspan></text><text x="533.07" y="74.9"><tspan font-weight="bold" letter-spacing="0.3">Fri</tspan><tspan font-size="11.5"> May 5</tspan></text><text x="645.75" y="74.9"><tspan font-weight="bold" letter-spacing="0.3">Sat</tspan><tspan font-size="11.5"> May 6</tspan></text><text x="758.43" y="74.9"><tspan font-weight="bold" letter-spacing="0.3">Sun</tspan><tspan font-size="11.5"> May 7</tspan></text><text x="871.11" y="74.9"><tspan font-weight="bold" letter-spacing="0.3">Mon</tspan><tspan font-size="11.5"> May 8</tspan></text><text x="983.78" y="74.9"><tspan font-weight="bold" letter-spacing="0.3">Tue</tspan><tspan font-size="11.5"> May 9</tspan></text><text x="1096.46" y="74.9"><tspan font-weight="bold" letter-spacing="0.3">Wed</tspan><tspan font-size="11.5"> May 10</tspan></text><text x="1209.14" y="74.9"><tspan font-weight="bold" letter-spacing="0.3">Thu</tspan><tspan font-size="11.5"> May 11</tspan></text><text x="1321.82" y="74.9"><tspan font-weight="bold" letter-spacing="0.3">Fri</tspan><tspan font-size="11.5"> May 12</tspan></text><text x="1434.5" y="74.9"><tspan font-weight="bold" letter-spacing="0.3">Sat</tspan><tspan font-size="11.5"> May 13</tspan></text><text x="1547.17" y="74.9"><tspan font-weight="bold" letter-spacing="0.3">Sun</tspan><tspan font-size="11.5"> May 14</tspan></text><text x="1659.85" y="74.9"><tspan font-weight="bold" letter-spacing="0.3">Mon</tspan><tspan font-size="11.5"> May 15</tspan></text></g><g font-size="10" fill="#666" text-anchor="end"><text x="29" y="436.9">0°</text><text x="29" y="360.65">5°</text><text x="29" y="284.4">10°</text><text x="29" y="208.15">15°</text><text x="29" y="131.9">20°</text></g><g font-size="11" fill="#666" letter-spacing="0.6"><text x="1737.2" y="437.9">0</text><text x="1737.2" y="370.7">4</text><text x="1737.2" y="303.5">8</text><text x="1737.2" y="236.3">12</text><text x="1737.2" y="169.1">16</text><text x="1737.2" y="101.9">20</text></g><text transform="translate(1752.6,212.4) rotate(90)" font-size="12" fill="#666" textLength="106" lengthAdjust="spacingAndGlyphs">Precipitation (mm)</text><g font-size="11" fill="#666" text-anchor="middle"><text x="50.79" y="483">18</text><text x="78.96" y="483">00</text><text x="107.13" y="483">06</text><text x="135.3" y="483">12</text><text x="163.47" y="483">18</text><text x="191.64" y="483">00</text><text x="219.81" y="483">06</text><text x="247.98" y="483">12</text><text x="276.15" y="483">18</text><text x="304.32" y="483">00</text><text x="332.49" y="483">06</text><text x="360.66" y="483">12</text><text x="388.83" y="483">18</text><text x="417" y="483">00</text><text x="445.17" y="483">06</text><text x="473.34" y="483">12</text><text x="501.5" y="483">18</text><text x="529.67" y="483">00</text><text x="557.84" y="483">06</text><text x="586.01" y="483">12</text><text x="614.18" y="483">18</text><text x="642.35" y="483">00</text><text x="670.52" y="483">06</text><text x="698.69" y="483">12</text><text x="726.86" y="483">18</text><text x="755.03" y="483">00</text><text x="783.2" y="483">06</text><text x="811.37" y="483">12</text><text x="839.54" y="483">18</text><text x="867.71" y="483">00</text><text x="895.88" y="483">06</text><text x="924.05" y="483">12</text><text x="952.22" y="483">18</text><text x="980.38" y="483">00</text><text x="1008.55" y="483">06</text><text x="1036.72" y="483">12</text><text x="1064.89" y="483">18</text><text x="1093.06" y="483">00</text><text x="1121.23" y="483">06</text><text x="1149.4" y="483">12</text><text x="1177.57" y="483">18</text><text x="1205.74" y="483">00</text><text x="1233.91" y="483">06</text><text x="1262.08" y="483">12</text><text x="1290.25" y="483">18</text><text x="1318.42" y="483">00</text><text x="1346.59" y="483">06</text><text x="1374.76" y="483">12</text><text x="1402.93" y="483">18</text><text x="1431.1" y="483">00</text><text x="1459.26" y="483">06</text><text x="1487.43" y="483">12</text><text x="1515.6" y="483">18</text><text x="1543.77" y="483">00</text><text x="1571.94" y="483">06</text><text x="1600.11" y="483">12</text><text x="1628.28" y="483">18</text><text x="1656.45" y="483">00</text><text x="1684.62" y="483">06</text></g><text x="821.5" y="502.6" font-size="12" fill="#666" textLength="111.5" lengthAdjust="spacingAndGlyphs">Local time (UTC+2)</text><text x="1646.3" y="499" font-size="9.5" fill="#999" textLength="75.3" lengthAdjust="spacingAndGlyphs">wetterzentrale.de</text></svg></body></html>
